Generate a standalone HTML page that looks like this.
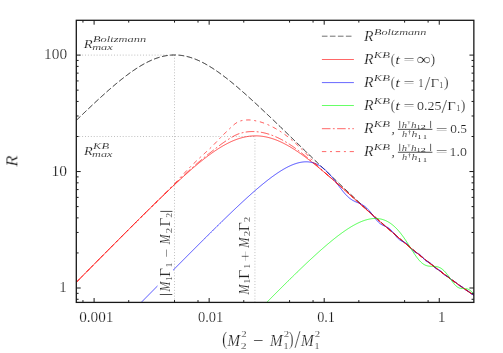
<!DOCTYPE html><html><head><meta charset="utf-8"><style>html,body{margin:0;padding:0;background:#fff}svg{display:block}</style></head><body><svg width="503" height="353" viewBox="0 0 503 353">
<rect width="503" height="353" fill="#fff"/>
<defs><clipPath id="c"><rect x="76.30" y="20.30" width="397.55" height="282.10"/></clipPath></defs>
<g stroke="#c0c0c0" stroke-width="1" stroke-dasharray="1 1.9" fill="none">
<path d="M76.30 55.10H174.52"/>
<path d="M76.30 136.50H254.93"/>
<path d="M174.52 302.40V55.10"/>
<path d="M254.93 302.40V136.50"/>
</g>
<g clip-path="url(#c)" fill="none" stroke-width="0.72" stroke-linejoin="round">
<path d="M76.30 120.42 L76.80 119.93 L77.30 119.45 L77.80 118.96 L78.30 118.48 L78.80 117.99 L79.30 117.51 L79.80 117.02 L80.30 116.54 L80.80 116.06 L81.30 115.57 L81.80 115.09 L82.30 114.61 L82.80 114.13 L83.30 113.65 L83.80 113.17 L84.30 112.69 L84.80 112.21 L85.30 111.73 L85.80 111.25 L86.30 110.77 L86.80 110.30 L87.30 109.82 L87.80 109.34 L88.30 108.87 L88.80 108.39 L89.30 107.92 L89.80 107.44 L90.30 106.97 L90.80 106.50 L91.30 106.03 L91.80 105.56 L92.30 105.09 L92.80 104.62 L93.30 104.15 L93.80 103.68 L94.30 103.21 L94.80 102.74 L95.30 102.28 L95.80 101.81 L96.30 101.35 L96.80 100.89 L97.30 100.42 L97.80 99.96 L98.30 99.50 L98.80 99.04 L99.30 98.58 L99.80 98.12 L100.30 97.66 L100.80 97.21 L101.30 96.75 L101.80 96.30 L102.30 95.84 L102.80 95.39 L103.30 94.94 L103.80 94.49 L104.30 94.04 L104.80 93.59 L105.30 93.14 L105.80 92.70 L106.30 92.25 L106.80 91.81 L107.30 91.37 L107.80 90.92 L108.30 90.48 L108.80 90.05 L109.30 89.61 L109.80 89.17 L110.30 88.74 L110.80 88.30 L111.30 87.87 L111.80 87.44 L112.30 87.01 L112.80 86.58 L113.30 86.15 L113.80 85.73 L114.30 85.30 L114.80 84.88 L115.30 84.46 L115.80 84.04 L116.30 83.63 L116.80 83.21 L117.30 82.79 L117.80 82.38 L118.30 81.97 L118.80 81.56 L119.30 81.15 L119.80 80.75 L120.30 80.35 L120.80 79.94 L121.30 79.54 L121.80 79.15 L122.30 78.75 L122.80 78.36 L123.30 77.96 L123.80 77.57 L124.30 77.19 L124.80 76.80 L125.30 76.42 L125.80 76.03 L126.30 75.65 L126.80 75.28 L127.30 74.90 L127.80 74.53 L128.30 74.16 L128.80 73.79 L129.30 73.43 L129.80 73.06 L130.30 72.70 L130.80 72.34 L131.30 71.99 L131.80 71.64 L132.30 71.29 L132.80 70.94 L133.30 70.59 L133.80 70.25 L134.30 69.91 L134.80 69.58 L135.30 69.24 L135.80 68.91 L136.30 68.58 L136.80 68.26 L137.30 67.94 L137.80 67.62 L138.30 67.30 L138.80 66.99 L139.30 66.68 L139.80 66.37 L140.30 66.07 L140.80 65.77 L141.30 65.47 L141.80 65.18 L142.30 64.89 L142.80 64.60 L143.30 64.32 L143.80 64.04 L144.30 63.76 L144.80 63.49 L145.30 63.22 L145.80 62.96 L146.30 62.70 L146.80 62.44 L147.30 62.19 L147.80 61.94 L148.30 61.69 L148.80 61.45 L149.30 61.21 L149.80 60.97 L150.30 60.74 L150.80 60.52 L151.30 60.29 L151.80 60.08 L152.30 59.86 L152.80 59.65 L153.30 59.45 L153.80 59.24 L154.30 59.05 L154.80 58.85 L155.30 58.67 L155.80 58.48 L156.30 58.30 L156.80 58.13 L157.30 57.96 L157.80 57.79 L158.30 57.63 L158.80 57.47 L159.30 57.32 L159.80 57.17 L160.30 57.03 L160.80 56.89 L161.30 56.75 L161.80 56.62 L162.30 56.50 L162.80 56.38 L163.30 56.26 L163.80 56.15 L164.30 56.05 L164.80 55.95 L165.30 55.85 L165.80 55.76 L166.30 55.67 L166.80 55.59 L167.30 55.52 L167.80 55.45 L168.30 55.38 L168.80 55.32 L169.30 55.26 L169.80 55.21 L170.30 55.16 L170.80 55.12 L171.30 55.09 L171.80 55.06 L172.30 55.03 L172.80 55.01 L173.30 54.99 L173.80 54.98 L174.30 54.97 L174.80 54.97 L175.30 54.98 L175.80 54.99 L176.30 55.00 L176.80 55.02 L177.30 55.05 L177.80 55.07 L178.30 55.11 L178.80 55.15 L179.30 55.19 L179.80 55.24 L180.30 55.30 L180.80 55.36 L181.30 55.42 L181.80 55.49 L182.30 55.56 L182.80 55.64 L183.30 55.73 L183.80 55.82 L184.30 55.91 L184.80 56.01 L185.30 56.11 L185.80 56.22 L186.30 56.33 L186.80 56.45 L187.30 56.57 L187.80 56.70 L188.30 56.83 L188.80 56.97 L189.30 57.11 L189.80 57.26 L190.30 57.41 L190.80 57.56 L191.30 57.72 L191.80 57.89 L192.30 58.06 L192.80 58.23 L193.30 58.41 L193.80 58.59 L194.30 58.78 L194.80 58.97 L195.30 59.16 L195.80 59.36 L196.30 59.57 L196.80 59.77 L197.30 59.99 L197.80 60.20 L198.30 60.42 L198.80 60.65 L199.30 60.87 L199.80 61.11 L200.30 61.34 L200.80 61.58 L201.30 61.83 L201.80 62.07 L202.30 62.33 L202.80 62.58 L203.30 62.84 L203.80 63.10 L204.30 63.37 L204.80 63.64 L205.30 63.91 L205.80 64.19 L206.30 64.47 L206.80 64.75 L207.30 65.04 L207.80 65.33 L208.30 65.63 L208.80 65.92 L209.30 66.22 L209.80 66.53 L210.30 66.83 L210.80 67.14 L211.30 67.46 L211.80 67.77 L212.30 68.09 L212.80 68.42 L213.30 68.74 L213.80 69.07 L214.30 69.40 L214.80 69.73 L215.30 70.07 L215.80 70.41 L216.30 70.75 L216.80 71.09 L217.30 71.44 L217.80 71.79 L218.30 72.14 L218.80 72.50 L219.30 72.86 L219.80 73.22 L220.30 73.58 L220.80 73.94 L221.30 74.31 L221.80 74.68 L222.30 75.05 L222.80 75.42 L223.30 75.80 L223.80 76.18 L224.30 76.56 L224.80 76.94 L225.30 77.32 L225.80 77.71 L226.30 78.10 L226.80 78.49 L227.30 78.88 L227.80 79.28 L228.30 79.67 L228.80 80.07 L229.30 80.47 L229.80 80.87 L230.30 81.28 L230.80 81.68 L231.30 82.09 L231.80 82.50 L232.30 82.91 L232.80 83.32 L233.30 83.73 L233.80 84.15 L234.30 84.56 L234.80 84.98 L235.30 85.40 L235.80 85.82 L236.30 86.24 L236.80 86.67 L237.30 87.09 L237.80 87.52 L238.30 87.95 L238.80 88.38 L239.30 88.81 L239.80 89.24 L240.30 89.67 L240.80 90.11 L241.30 90.54 L241.80 90.98 L242.30 91.41 L242.80 91.85 L243.30 92.29 L243.80 92.73 L244.30 93.18 L244.80 93.62 L245.30 94.06 L245.80 94.51 L246.30 94.96 L246.80 95.40 L247.30 95.85 L247.80 96.30 L248.30 96.75 L248.80 97.20 L249.30 97.65 L249.80 98.11 L250.30 98.56 L250.80 99.01 L251.30 99.47 L251.80 99.92 L252.30 100.38 L252.80 100.84 L253.30 101.30 L253.80 101.76 L254.30 102.22 L254.80 102.68 L255.30 103.14 L255.80 103.60 L256.30 104.06 L256.80 104.53 L257.30 104.99 L257.80 105.45 L258.30 105.92 L258.80 106.38 L259.30 106.85 L259.80 107.32 L260.30 107.78 L260.80 108.25 L261.30 108.72 L261.80 109.19 L262.30 109.66 L262.80 110.13 L263.30 110.60 L263.80 111.07 L264.30 111.54 L264.80 112.01 L265.30 112.49 L265.80 112.96 L266.30 113.43 L266.80 113.90 L267.30 114.38 L267.80 114.85 L268.30 115.33 L268.80 115.80 L269.30 116.28 L269.80 116.75 L270.30 117.23 L270.80 117.71 L271.30 118.18 L271.80 118.66 L272.30 119.14 L272.80 119.62 L273.30 120.09 L273.80 120.57 L274.30 121.05 L274.80 121.53 L275.30 122.01 L275.80 122.49 L276.30 122.97 L276.80 123.45 L277.30 123.93 L277.80 124.41 L278.30 124.89 L278.80 125.37 L279.30 125.85 L279.80 126.33 L280.30 126.81 L280.80 127.30 L281.30 127.78 L281.80 128.26 L282.30 128.74 L282.80 129.22 L283.30 129.71 L283.80 130.19 L284.30 130.67 L284.80 131.15 L285.30 131.64 L285.80 132.12 L286.30 132.60 L286.80 133.09 L287.30 133.57 L287.80 134.06 L288.30 134.54 L288.80 135.02 L289.30 135.51 L289.80 135.99 L290.30 136.47 L290.80 136.96 L291.30 137.44 L291.80 137.93 L292.30 138.41 L292.80 138.90 L293.30 139.38 L293.80 139.87 L294.30 140.35 L294.80 140.83 L295.30 141.32 L295.80 141.80 L296.30 142.29 L296.80 142.77 L297.30 143.26 L297.80 143.74 L298.30 144.23 L298.80 144.71 L299.30 145.20 L299.80 145.68 L300.30 146.17 L300.80 146.65 L301.30 147.14 L301.80 147.62 L302.30 148.11 L302.80 148.59 L303.30 149.07 L303.80 149.56 L304.30 150.04 L304.80 150.53 L305.30 151.01 L305.80 151.50 L306.30 151.98 L306.80 152.47 L307.30 152.95 L307.80 153.44 L308.30 153.92 L308.80 154.40 L309.30 154.89 L309.80 155.37 L310.30 155.86 L310.80 156.34 L311.30 156.82 L311.80 157.31 L312.30 157.79 L312.80 158.27 L313.30 158.76 L313.80 159.24 L314.30 159.72 L314.80 160.21 L315.30 160.69 L315.80 161.17 L316.30 161.66 L316.80 162.14 L317.30 162.62 L317.80 163.10 L318.30 163.59 L318.80 164.07 L319.30 164.55 L319.80 165.03 L320.30 165.51 L320.80 165.99 L321.30 166.48 L321.80 166.96 L322.30 167.44 L322.80 167.92 L323.30 168.40 L323.80 168.88 L324.30 169.36 L324.80 169.84 L325.30 170.32 L325.80 170.80 L326.30 171.28 L326.80 171.76 L327.30 172.24 L327.80 172.72 L328.30 173.20 L328.80 173.68 L329.30 174.16 L329.80 174.64 L330.30 175.12 L330.80 175.59 L331.30 176.07 L331.80 176.55 L332.30 177.03 L332.80 177.51 L333.30 177.98 L333.80 178.46 L334.30 178.94 L334.80 179.41 L335.30 179.89 L335.80 180.37 L336.30 180.84 L336.80 181.32 L337.30 181.79 L337.80 182.27 L338.30 182.74 L338.80 183.22 L339.30 183.69 L339.80 184.17 L340.30 184.64 L340.80 185.12 L341.30 185.59 L341.80 186.06 L342.30 186.54 L342.80 187.01 L343.30 187.48 L343.80 187.96 L344.30 188.43 L344.80 188.90 L345.30 189.37 L345.80 189.84 L346.30 190.31 L346.80 190.78 L347.30 191.25 L347.80 191.73 L348.30 192.20 L348.80 192.66 L349.30 193.13 L349.80 193.60 L350.30 194.07 L350.80 194.54 L351.30 195.01 L351.80 195.48 L352.30 195.94 L352.80 196.41 L353.30 196.88 L353.80 197.35 L354.30 197.81 L354.80 198.28 L355.30 198.74 L355.80 199.21 L356.30 199.67 L356.80 200.14 L357.30 200.60 L357.80 201.07 L358.30 201.53 L358.80 202.00 L359.30 202.46 L359.80 202.92 L360.30 203.38 L360.80 203.85 L361.30 204.31 L361.80 204.77 L362.30 205.23 L362.80 205.69 L363.30 206.15 L363.80 206.61 L364.30 207.07 L364.80 207.53 L365.30 207.99 L365.80 208.45 L366.30 208.91 L366.80 209.36 L367.30 209.82 L367.80 210.28 L368.30 210.73 L368.80 211.19 L369.30 211.65 L369.80 212.10 L370.30 212.56 L370.80 213.01 L371.30 213.47 L371.80 213.92 L372.30 214.37 L372.80 214.83 L373.30 215.28 L373.80 215.73 L374.30 216.18 L374.80 216.63 L375.30 217.08 L375.80 217.53 L376.30 217.98 L376.80 218.43 L377.30 218.88 L377.80 219.33 L378.30 219.78 L378.80 220.23 L379.30 220.68 L379.80 221.12 L380.30 221.57 L380.80 222.02 L381.30 222.46 L381.80 222.91 L382.30 223.35 L382.80 223.80 L383.30 224.24 L383.80 224.68 L384.30 225.13 L384.80 225.57 L385.30 226.01 L385.80 226.45 L386.30 226.89 L386.80 227.33 L387.30 227.77 L387.80 228.21 L388.30 228.65 L388.80 229.09 L389.30 229.53 L389.80 229.97 L390.30 230.40 L390.80 230.84 L391.30 231.28 L391.80 231.71 L392.30 232.15 L392.80 232.58 L393.30 233.01 L393.80 233.45 L394.30 233.88 L394.80 234.31 L395.30 234.75 L395.80 235.18 L396.30 235.61 L396.80 236.04 L397.30 236.47 L397.80 236.90 L398.30 237.33 L398.80 237.75 L399.30 238.18 L399.80 238.61 L400.30 239.04 L400.80 239.46 L401.30 239.89 L401.80 240.31 L402.30 240.74 L402.80 241.16 L403.30 241.59 L403.80 242.01 L404.30 242.43 L404.80 242.85 L405.30 243.27 L405.80 243.69 L406.30 244.11 L406.80 244.53 L407.30 244.95 L407.80 245.37 L408.30 245.79 L408.80 246.21 L409.30 246.62 L409.80 247.04 L410.30 247.45 L410.80 247.87 L411.30 248.28 L411.80 248.70 L412.30 249.11 L412.80 249.52 L413.30 249.93 L413.80 250.34 L414.30 250.76 L414.80 251.17 L415.30 251.58 L415.80 251.98 L416.30 252.39 L416.80 252.80 L417.30 253.21 L417.80 253.61 L418.30 254.02 L418.80 254.43 L419.30 254.83 L419.80 255.23 L420.30 255.64 L420.80 256.04 L421.30 256.44 L421.80 256.84 L422.30 257.25 L422.80 257.65 L423.30 258.05 L423.80 258.45 L424.30 258.84 L424.80 259.24 L425.30 259.64 L425.80 260.04 L426.30 260.43 L426.80 260.83 L427.30 261.22 L427.80 261.62 L428.30 262.01 L428.80 262.40 L429.30 262.80 L429.80 263.19 L430.30 263.58 L430.80 263.97 L431.30 264.36 L431.80 264.75 L432.30 265.14 L432.80 265.53 L433.30 265.91 L433.80 266.30 L434.30 266.69 L434.80 267.07 L435.30 267.46 L435.80 267.84 L436.30 268.22 L436.80 268.61 L437.30 268.99 L437.80 269.37 L438.30 269.75 L438.80 270.13 L439.30 270.51 L439.80 270.89 L440.30 271.27 L440.80 271.65 L441.30 272.02 L441.80 272.40 L442.30 272.78 L442.80 273.15 L443.30 273.53 L443.80 273.90 L444.30 274.27 L444.80 274.65 L445.30 275.02 L445.80 275.39 L446.30 275.76 L446.80 276.13 L447.30 276.50 L447.80 276.87 L448.30 277.24 L448.80 277.61 L449.30 277.97 L449.80 278.34 L450.30 278.71 L450.80 279.07 L451.30 279.44 L451.80 279.80 L452.30 280.16 L452.80 280.53 L453.30 280.89 L453.80 281.25 L454.30 281.61 L454.80 281.97 L455.30 282.33 L455.80 282.69 L456.30 283.05 L456.80 283.41 L457.30 283.77 L457.80 284.12 L458.30 284.48 L458.80 284.83 L459.30 285.19 L459.80 285.54 L460.30 285.90 L460.80 286.25 L461.30 286.60 L461.80 286.95 L462.30 287.30 L462.80 287.65 L463.30 288.00 L463.80 288.35 L464.30 288.70 L464.80 289.05 L465.30 289.40 L465.80 289.75 L466.30 290.09 L466.80 290.44 L467.30 290.78 L467.80 291.13 L468.30 291.47 L468.80 291.82 L469.30 292.16 L469.80 292.50 L470.30 292.84 L470.80 293.18 L471.30 293.52 L471.80 293.86 L472.30 294.20 L472.80 294.54 L473.30 294.88 L473.80 295.22" stroke="#111" stroke-width="0.95" stroke-dasharray="5.8 2.5"/>
<path d="M76.30 282.27 L76.80 281.76 L77.30 281.26 L77.80 280.75 L78.30 280.25 L78.80 279.74 L79.30 279.24 L79.80 278.73 L80.30 278.23 L80.80 277.72 L81.30 277.21 L81.80 276.71 L82.30 276.20 L82.80 275.70 L83.30 275.19 L83.80 274.69 L84.30 274.18 L84.80 273.68 L85.30 273.17 L85.80 272.67 L86.30 272.16 L86.80 271.66 L87.30 271.15 L87.80 270.65 L88.30 270.14 L88.80 269.64 L89.30 269.13 L89.80 268.63 L90.30 268.12 L90.80 267.62 L91.30 267.11 L91.80 266.61 L92.30 266.10 L92.80 265.60 L93.30 265.09 L93.80 264.59 L94.30 264.08 L94.80 263.58 L95.30 263.07 L95.80 262.57 L96.30 262.07 L96.80 261.56 L97.30 261.06 L97.80 260.55 L98.30 260.05 L98.80 259.54 L99.30 259.04 L99.80 258.53 L100.30 258.03 L100.80 257.53 L101.30 257.02 L101.80 256.52 L102.30 256.01 L102.80 255.51 L103.30 255.00 L103.80 254.50 L104.30 254.00 L104.80 253.49 L105.30 252.99 L105.80 252.49 L106.30 251.98 L106.80 251.48 L107.30 250.97 L107.80 250.47 L108.30 249.97 L108.80 249.46 L109.30 248.96 L109.80 248.46 L110.30 247.95 L110.80 247.45 L111.30 246.95 L111.80 246.44 L112.30 245.94 L112.80 245.44 L113.30 244.93 L113.80 244.43 L114.30 243.93 L114.80 243.43 L115.30 242.92 L115.80 242.42 L116.30 241.92 L116.80 241.41 L117.30 240.91 L117.80 240.41 L118.30 239.91 L118.80 239.41 L119.30 238.90 L119.80 238.40 L120.30 237.90 L120.80 237.40 L121.30 236.90 L121.80 236.39 L122.30 235.89 L122.80 235.39 L123.30 234.89 L123.80 234.39 L124.30 233.89 L124.80 233.39 L125.30 232.88 L125.80 232.38 L126.30 231.88 L126.80 231.38 L127.30 230.88 L127.80 230.38 L128.30 229.88 L128.80 229.38 L129.30 228.88 L129.80 228.38 L130.30 227.88 L130.80 227.38 L131.30 226.88 L131.80 226.38 L132.30 225.88 L132.80 225.38 L133.30 224.88 L133.80 224.39 L134.30 223.89 L134.80 223.39 L135.30 222.89 L135.80 222.39 L136.30 221.89 L136.80 221.40 L137.30 220.90 L137.80 220.40 L138.30 219.90 L138.80 219.41 L139.30 218.91 L139.80 218.41 L140.30 217.92 L140.80 217.42 L141.30 216.92 L141.80 216.43 L142.30 215.93 L142.80 215.44 L143.30 214.94 L143.80 214.45 L144.30 213.95 L144.80 213.46 L145.30 212.96 L145.80 212.47 L146.30 211.97 L146.80 211.48 L147.30 210.99 L147.80 210.49 L148.30 210.00 L148.80 209.51 L149.30 209.01 L149.80 208.52 L150.30 208.03 L150.80 207.54 L151.30 207.05 L151.80 206.56 L152.30 206.07 L152.80 205.58 L153.30 205.09 L153.80 204.60 L154.30 204.11 L154.80 203.62 L155.30 203.13 L155.80 202.64 L156.30 202.15 L156.80 201.66 L157.30 201.18 L157.80 200.69 L158.30 200.20 L158.80 199.72 L159.30 199.23 L159.80 198.75 L160.30 198.26 L160.80 197.78 L161.30 197.29 L161.80 196.81 L162.30 196.33 L162.80 195.84 L163.30 195.36 L163.80 194.88 L164.30 194.40 L164.80 193.92 L165.30 193.44 L165.80 192.96 L166.30 192.48 L166.80 192.00 L167.30 191.52 L167.80 191.05 L168.30 190.57 L168.80 190.09 L169.30 189.62 L169.80 189.14 L170.30 188.67 L170.80 188.19 L171.30 187.72 L171.80 187.25 L172.30 186.78 L172.80 186.30 L173.30 185.83 L173.80 185.36 L174.30 184.90 L174.80 184.43 L175.30 183.96 L175.80 183.49 L176.30 183.03 L176.80 182.56 L177.30 182.10 L177.80 181.63 L178.30 181.17 L178.80 180.71 L179.30 180.25 L179.80 179.79 L180.30 179.33 L180.80 178.87 L181.30 178.41 L181.80 177.95 L182.30 177.50 L182.80 177.04 L183.30 176.59 L183.80 176.14 L184.30 175.69 L184.80 175.24 L185.30 174.79 L185.80 174.34 L186.30 173.89 L186.80 173.45 L187.30 173.00 L187.80 172.56 L188.30 172.11 L188.80 171.67 L189.30 171.23 L189.80 170.79 L190.30 170.36 L190.80 169.92 L191.30 169.48 L191.80 169.05 L192.30 168.62 L192.80 168.19 L193.30 167.76 L193.80 167.33 L194.30 166.90 L194.80 166.48 L195.30 166.05 L195.80 165.63 L196.30 165.21 L196.80 164.79 L197.30 164.38 L197.80 163.96 L198.30 163.55 L198.80 163.13 L199.30 162.72 L199.80 162.32 L200.30 161.91 L200.80 161.50 L201.30 161.10 L201.80 160.70 L202.30 160.30 L202.80 159.90 L203.30 159.51 L203.80 159.11 L204.30 158.72 L204.80 158.33 L205.30 157.94 L205.80 157.56 L206.30 157.18 L206.80 156.79 L207.30 156.42 L207.80 156.04 L208.30 155.67 L208.80 155.29 L209.30 154.92 L209.80 154.56 L210.30 154.19 L210.80 153.83 L211.30 153.47 L211.80 153.11 L212.30 152.76 L212.80 152.41 L213.30 152.06 L213.80 151.71 L214.30 151.37 L214.80 151.03 L215.30 150.69 L215.80 150.35 L216.30 150.02 L216.80 149.69 L217.30 149.36 L217.80 149.04 L218.30 148.72 L218.80 148.40 L219.30 148.09 L219.80 147.77 L220.30 147.47 L220.80 147.16 L221.30 146.86 L221.80 146.56 L222.30 146.26 L222.80 145.97 L223.30 145.68 L223.80 145.40 L224.30 145.12 L224.80 144.84 L225.30 144.57 L225.80 144.29 L226.30 144.03 L226.80 143.76 L227.30 143.50 L227.80 143.25 L228.30 142.99 L228.80 142.75 L229.30 142.50 L229.80 142.26 L230.30 142.02 L230.80 141.79 L231.30 141.56 L231.80 141.34 L232.30 141.12 L232.80 140.90 L233.30 140.69 L233.80 140.48 L234.30 140.27 L234.80 140.08 L235.30 139.88 L235.80 139.69 L236.30 139.50 L236.80 139.32 L237.30 139.14 L237.80 138.97 L238.30 138.80 L238.80 138.63 L239.30 138.47 L239.80 138.32 L240.30 138.17 L240.80 138.02 L241.30 137.88 L241.80 137.74 L242.30 137.61 L242.80 137.48 L243.30 137.36 L243.80 137.24 L244.30 137.13 L244.80 137.02 L245.30 136.91 L245.80 136.81 L246.30 136.72 L246.80 136.63 L247.30 136.55 L247.80 136.47 L248.30 136.39 L248.80 136.32 L249.30 136.26 L249.80 136.20 L250.30 136.14 L250.80 136.09 L251.30 136.05 L251.80 136.01 L252.30 135.97 L252.80 135.94 L253.30 135.92 L253.80 135.90 L254.30 135.88 L254.80 135.87 L255.30 135.87 L255.80 135.87 L256.30 135.87 L256.80 135.88 L257.30 135.90 L257.80 135.92 L258.30 135.94 L258.80 135.97 L259.30 136.01 L259.80 136.05 L260.30 136.09 L260.80 136.14 L261.30 136.20 L261.80 136.26 L262.30 136.32 L262.80 136.39 L263.30 136.46 L263.80 136.54 L264.30 136.63 L264.80 136.72 L265.30 136.81 L265.80 136.91 L266.30 137.01 L266.80 137.12 L267.30 137.23 L267.80 137.35 L268.30 137.47 L268.80 137.60 L269.30 137.73 L269.80 137.86 L270.30 138.00 L270.80 138.15 L271.30 138.30 L271.80 138.45 L272.30 138.61 L272.80 138.77 L273.30 138.94 L273.80 139.11 L274.30 139.29 L274.80 139.47 L275.30 139.65 L275.80 139.84 L276.30 140.03 L276.80 140.23 L277.30 140.43 L277.80 140.64 L278.30 140.85 L278.80 141.06 L279.30 141.28 L279.80 141.50 L280.30 141.72 L280.80 141.95 L281.30 142.18 L281.80 142.42 L282.30 142.66 L282.80 142.90 L283.30 143.15 L283.80 143.40 L284.30 143.66 L284.80 143.91 L285.30 144.18 L285.80 144.44 L286.30 144.71 L286.80 144.98 L287.30 145.26 L287.80 145.54 L288.30 145.82 L288.80 146.10 L289.30 146.39 L289.80 146.68 L290.30 146.98 L290.80 147.28 L291.30 147.58 L291.80 147.88 L292.30 148.19 L292.80 148.50 L293.30 148.81 L293.80 149.12 L294.30 149.44 L294.80 149.76 L295.30 150.09 L295.80 150.41 L296.30 150.74 L296.80 151.07 L297.30 151.41 L297.80 151.74 L298.30 152.08 L298.80 152.42 L299.30 152.77 L299.80 153.11 L300.30 153.46 L300.80 153.81 L301.30 154.17 L301.80 154.52 L302.30 154.88 L302.80 155.24 L303.30 155.60 L303.80 155.96 L304.30 156.33 L304.80 156.70 L305.30 157.07 L305.80 157.44 L306.30 157.81 L306.80 158.19 L307.30 158.57 L307.80 158.95 L308.30 159.33 L308.80 159.71 L309.30 160.09 L309.80 160.48 L310.30 160.87 L310.80 161.26 L311.30 161.65 L311.80 162.04 L312.30 162.44 L312.80 162.83 L313.30 163.23 L313.80 163.63 L314.30 164.03 L314.80 164.43 L315.30 164.83 L315.80 165.24 L316.30 165.64 L316.80 166.05 L317.30 166.46 L317.80 166.87 L318.30 167.28 L318.80 167.69 L319.30 168.10 L319.80 168.52 L320.30 168.93 L320.80 169.35 L321.30 169.77 L321.80 170.18 L322.30 170.60 L322.80 171.02 L323.30 171.45 L323.80 171.87 L324.30 172.29 L324.80 172.71 L325.30 173.14 L325.80 173.57 L326.30 173.99 L326.80 174.42 L327.30 174.85 L327.80 175.28 L328.30 175.71 L328.80 176.14 L329.30 176.57 L329.80 177.00 L330.30 177.43 L330.80 177.87 L331.30 178.30 L331.80 178.74 L332.30 179.17 L332.80 179.61 L333.30 180.05 L333.80 180.48 L334.30 180.92 L334.80 181.36 L335.30 181.80 L335.80 182.24 L336.30 182.68 L336.80 183.12 L337.30 183.56 L337.80 184.00 L338.30 184.44 L338.80 184.88 L339.30 185.32 L339.80 185.77 L340.30 186.21 L340.80 186.65 L341.30 187.10 L341.80 187.54 L342.30 187.98 L342.80 188.43 L343.30 188.87 L343.80 189.32 L344.30 189.77 L344.80 190.21 L345.30 190.66 L345.80 191.10 L346.30 191.55 L346.80 192.00 L347.30 192.44 L347.80 192.89 L348.30 193.34 L348.80 193.78 L349.30 194.23 L349.80 194.68 L350.30 195.13 L350.80 195.58 L351.30 196.02 L351.80 196.47 L352.30 196.92 L352.80 197.37 L353.30 197.82 L353.80 198.26 L354.30 198.71 L354.80 199.16 L355.30 199.61 L355.80 200.06 L356.30 200.51 L356.80 200.96 L357.30 201.40 L357.80 201.85 L358.30 202.30 L358.80 202.75 L359.30 203.20 L359.80 203.65 L360.30 204.09 L360.80 204.54 L361.30 204.99 L361.80 205.44 L362.30 205.89 L362.80 206.33 L363.30 206.78 L363.80 207.23 L364.30 207.68 L364.80 208.12 L365.30 208.57 L365.80 209.02 L366.30 209.46 L366.80 209.91 L367.30 210.36 L367.80 210.80 L368.30 211.25 L368.80 211.70 L369.30 212.14 L369.80 212.59 L370.30 213.03 L370.80 213.48 L371.30 213.92 L371.80 214.37 L372.30 214.81 L372.80 215.26 L373.30 215.70 L373.80 216.14 L374.30 216.59 L374.80 217.03 L375.30 217.47 L375.80 217.92 L376.30 218.36 L376.80 218.80 L377.30 219.24 L377.80 219.69 L378.30 220.13 L378.80 220.57 L379.30 221.01 L379.80 221.45 L380.30 221.89 L380.80 222.33 L381.30 222.77 L381.80 223.21 L382.30 223.65 L382.80 224.09 L383.30 224.52 L383.80 224.96 L384.30 225.40 L384.80 225.84 L385.30 226.27 L385.80 226.71 L386.30 227.14 L386.80 227.58 L387.30 228.01 L387.80 228.45 L388.30 228.88 L388.80 229.32 L389.30 229.75 L389.80 230.18 L390.30 230.62 L390.80 231.05 L391.30 231.48 L391.80 231.91 L392.30 232.34 L392.80 232.77 L393.30 233.21 L393.80 233.63 L394.30 234.06 L394.80 234.49 L395.30 234.92 L395.80 235.35 L396.30 235.78 L396.80 236.20 L397.30 236.63 L397.80 237.06 L398.30 237.48 L398.80 237.91 L399.30 238.33 L399.80 238.76 L400.30 239.18 L400.80 239.60 L401.30 240.03 L401.80 240.45 L402.30 240.87 L402.80 241.29 L403.30 241.71 L403.80 242.13 L404.30 242.55 L404.80 242.97 L405.30 243.39 L405.80 243.81 L406.30 244.23 L406.80 244.64 L407.30 245.06 L407.80 245.48 L408.30 245.89 L408.80 246.31 L409.30 246.72 L409.80 247.14 L410.30 247.55 L410.80 247.96 L411.30 248.38 L411.80 248.79 L412.30 249.20 L412.80 249.61 L413.30 250.02 L413.80 250.43 L414.30 250.84 L414.80 251.25 L415.30 251.65 L415.80 252.06 L416.30 252.47 L416.80 252.87 L417.30 253.28 L417.80 253.69 L418.30 254.09 L418.80 254.49 L419.30 254.90 L419.80 255.30 L420.30 255.70 L420.80 256.10 L421.30 256.51 L421.80 256.91 L422.30 257.31 L422.80 257.70 L423.30 258.10 L423.80 258.50 L424.30 258.90 L424.80 259.30 L425.30 259.69 L425.80 260.09 L426.30 260.48 L426.80 260.88 L427.30 261.27 L427.80 261.66 L428.30 262.06 L428.80 262.45 L429.30 262.84 L429.80 263.23 L430.30 263.62 L430.80 264.01 L431.30 264.40 L431.80 264.79 L432.30 265.18 L432.80 265.56 L433.30 265.95 L433.80 266.34 L434.30 266.72 L434.80 267.11 L435.30 267.49 L435.80 267.87 L436.30 268.26 L436.80 268.64 L437.30 269.02 L437.80 269.40 L438.30 269.78 L438.80 270.16 L439.30 270.54 L439.80 270.92 L440.30 271.30 L440.80 271.68 L441.30 272.05 L441.80 272.43 L442.30 272.80 L442.80 273.18 L443.30 273.55 L443.80 273.93 L444.30 274.30 L444.80 274.67 L445.30 275.04 L445.80 275.41 L446.30 275.79 L446.80 276.16 L447.30 276.52 L447.80 276.89 L448.30 277.26 L448.80 277.63 L449.30 278.00 L449.80 278.36 L450.30 278.73 L450.80 279.09 L451.30 279.46 L451.80 279.82 L452.30 280.18 L452.80 280.55 L453.30 280.91 L453.80 281.27 L454.30 281.63 L454.80 281.99 L455.30 282.35 L455.80 282.71 L456.30 283.07 L456.80 283.42 L457.30 283.78 L457.80 284.14 L458.30 284.49 L458.80 284.85 L459.30 285.20 L459.80 285.56 L460.30 285.91 L460.80 286.26 L461.30 286.61 L461.80 286.97 L462.30 287.32 L462.80 287.67 L463.30 288.02 L463.80 288.37 L464.30 288.71 L464.80 289.06 L465.30 289.41 L465.80 289.76 L466.30 290.10 L466.80 290.45 L467.30 290.79 L467.80 291.14 L468.30 291.48 L468.80 291.82 L469.30 292.17 L469.80 292.51 L470.30 292.85 L470.80 293.19 L471.30 293.53 L471.80 293.87 L472.30 294.21 L472.80 294.55 L473.30 294.89 L473.80 295.23" stroke="#f00"/>
<path d="M136.30 307.39 L136.80 306.88 L137.30 306.37 L137.80 305.87 L138.30 305.36 L138.80 304.86 L139.30 304.35 L139.80 303.84 L140.30 303.34 L140.80 302.83 L141.30 302.33 L141.80 301.82 L142.30 301.31 L142.80 300.81 L143.30 300.30 L143.80 299.80 L144.30 299.29 L144.80 298.79 L145.30 298.28 L145.80 297.77 L146.30 297.27 L146.80 296.76 L147.30 296.26 L147.80 295.75 L148.30 295.25 L148.80 294.74 L149.30 294.23 L149.80 293.73 L150.30 293.22 L150.80 292.72 L151.30 292.21 L151.80 291.71 L152.30 291.20 L152.80 290.70 L153.30 290.19 L153.80 289.68 L154.30 289.18 L154.80 288.67 L155.30 288.17 L155.80 287.66 L156.30 287.16 L156.80 286.65 L157.30 286.15 L157.80 285.64 L158.30 285.14 L158.80 284.63 L159.30 284.13 L159.80 283.62 L160.30 283.11 L160.80 282.61 L161.30 282.10 L161.80 281.60 L162.30 281.09 L162.80 280.59 L163.30 280.08 L163.80 279.58 L164.30 279.07 L164.80 278.57 L165.30 278.06 L165.80 277.56 L166.30 277.05 L166.80 276.55 L167.30 276.05 L167.80 275.54 L168.30 275.04 L168.80 274.53 L169.30 274.03 L169.80 273.52 L170.30 273.02 L170.80 272.51 L171.30 272.01 L171.80 271.50 L172.30 271.00 L172.80 270.50 L173.30 269.99 L173.80 269.49 L174.30 268.98 L174.80 268.48 L175.30 267.98 L175.80 267.47 L176.30 266.97 L176.80 266.46 L177.30 265.96 L177.80 265.46 L178.30 264.95 L178.80 264.45 L179.30 263.95 L179.80 263.44 L180.30 262.94 L180.80 262.44 L181.30 261.93 L181.80 261.43 L182.30 260.93 L182.80 260.42 L183.30 259.92 L183.80 259.42 L184.30 258.91 L184.80 258.41 L185.30 257.91 L185.80 257.41 L186.30 256.90 L186.80 256.40 L187.30 255.90 L187.80 255.40 L188.30 254.90 L188.80 254.39 L189.30 253.89 L189.80 253.39 L190.30 252.89 L190.80 252.39 L191.30 251.89 L191.80 251.38 L192.30 250.88 L192.80 250.38 L193.30 249.88 L193.80 249.38 L194.30 248.88 L194.80 248.38 L195.30 247.88 L195.80 247.38 L196.30 246.88 L196.80 246.38 L197.30 245.88 L197.80 245.38 L198.30 244.88 L198.80 244.38 L199.30 243.88 L199.80 243.38 L200.30 242.88 L200.80 242.38 L201.30 241.88 L201.80 241.39 L202.30 240.89 L202.80 240.39 L203.30 239.89 L203.80 239.39 L204.30 238.90 L204.80 238.40 L205.30 237.90 L205.80 237.41 L206.30 236.91 L206.80 236.41 L207.30 235.92 L207.80 235.42 L208.30 234.92 L208.80 234.43 L209.30 233.93 L209.80 233.44 L210.30 232.94 L210.80 232.45 L211.30 231.95 L211.80 231.46 L212.30 230.97 L212.80 230.47 L213.30 229.98 L213.80 229.49 L214.30 228.99 L214.80 228.50 L215.30 228.01 L215.80 227.52 L216.30 227.02 L216.80 226.53 L217.30 226.04 L217.80 225.55 L218.30 225.06 L218.80 224.57 L219.30 224.08 L219.80 223.59 L220.30 223.10 L220.80 222.62 L221.30 222.13 L221.80 221.64 L222.30 221.15 L222.80 220.67 L223.30 220.18 L223.80 219.69 L224.30 219.21 L224.80 218.72 L225.30 218.24 L225.80 217.75 L226.30 217.27 L226.80 216.79 L227.30 216.30 L227.80 215.82 L228.30 215.34 L228.80 214.86 L229.30 214.38 L229.80 213.90 L230.30 213.42 L230.80 212.94 L231.30 212.46 L231.80 211.98 L232.30 211.50 L232.80 211.03 L233.30 210.55 L233.80 210.07 L234.30 209.60 L234.80 209.12 L235.30 208.65 L235.80 208.18 L236.30 207.70 L236.80 207.23 L237.30 206.76 L237.80 206.29 L238.30 205.82 L238.80 205.35 L239.30 204.88 L239.80 204.42 L240.30 203.95 L240.80 203.49 L241.30 203.02 L241.80 202.56 L242.30 202.09 L242.80 201.63 L243.30 201.17 L243.80 200.71 L244.30 200.25 L244.80 199.79 L245.30 199.33 L245.80 198.88 L246.30 198.42 L246.80 197.96 L247.30 197.51 L247.80 197.06 L248.30 196.61 L248.80 196.16 L249.30 195.71 L249.80 195.26 L250.30 194.81 L250.80 194.36 L251.30 193.92 L251.80 193.48 L252.30 193.03 L252.80 192.59 L253.30 192.15 L253.80 191.71 L254.30 191.28 L254.80 190.84 L255.30 190.41 L255.80 189.97 L256.30 189.54 L256.80 189.11 L257.30 188.68 L257.80 188.26 L258.30 187.83 L258.80 187.41 L259.30 186.98 L259.80 186.56 L260.30 186.15 L260.80 185.73 L261.30 185.31 L261.80 184.90 L262.30 184.49 L262.80 184.08 L263.30 183.67 L263.80 183.26 L264.30 182.86 L264.80 182.46 L265.30 182.05 L265.80 181.66 L266.30 181.26 L266.80 180.87 L267.30 180.47 L267.80 180.08 L268.30 179.70 L268.80 179.31 L269.30 178.93 L269.80 178.55 L270.30 178.17 L270.80 177.80 L271.30 177.42 L271.80 177.05 L272.30 176.69 L272.80 176.32 L273.30 175.96 L273.80 175.60 L274.30 175.24 L274.80 174.89 L275.30 174.54 L275.80 174.19 L276.30 173.85 L276.80 173.51 L277.30 173.17 L277.80 172.83 L278.30 172.50 L278.80 172.17 L279.30 171.85 L279.80 171.53 L280.30 171.21 L280.80 170.90 L281.30 170.59 L281.80 170.28 L282.30 169.98 L282.80 169.68 L283.30 169.39 L283.80 169.09 L284.30 168.81 L284.80 168.53 L285.30 168.25 L285.80 167.98 L286.30 167.71 L286.80 167.44 L287.30 167.18 L287.80 166.93 L288.30 166.68 L288.80 166.43 L289.30 166.19 L289.80 165.96 L290.30 165.73 L290.80 165.51 L291.30 165.29 L291.80 165.07 L292.30 164.87 L292.80 164.66 L293.30 164.47 L293.80 164.28 L294.30 164.09 L294.80 163.92 L295.30 163.75 L295.80 163.58 L296.30 163.42 L296.80 163.27 L297.30 163.12 L297.80 162.99 L298.30 162.85 L298.80 162.73 L299.30 162.61 L299.80 162.50 L300.30 162.40 L300.80 162.31 L301.30 162.22 L301.80 162.14 L302.30 162.07 L302.80 162.01 L303.30 161.95 L303.80 161.91 L304.30 161.87 L304.80 161.84 L305.30 161.82 L305.80 161.81 L306.30 161.81 L306.80 161.82 L307.30 161.84 L307.80 161.86 L308.30 161.90 L308.80 161.95 L309.30 162.00 L309.80 162.07 L310.30 162.15 L310.80 162.24 L311.30 162.34 L311.80 162.45 L312.30 162.57 L312.80 162.70 L313.30 162.84 L313.80 162.99 L314.30 163.16 L314.80 163.34 L315.30 163.53 L315.80 163.73 L316.30 163.94 L316.80 164.17 L317.30 164.40 L317.80 164.65 L318.30 164.92 L318.80 165.19 L319.30 165.48 L319.80 165.78 L320.30 166.10 L320.80 166.42 L321.30 166.76 L321.80 167.12 L322.30 167.48 L322.80 167.86 L323.30 168.25 L323.80 168.66 L324.30 169.08 L324.80 169.51 L325.30 169.95 L325.80 170.41 L326.30 170.88 L326.80 171.37 L327.30 171.86 L327.80 172.37 L328.30 172.89 L328.80 173.42 L329.30 173.97 L329.80 174.52 L330.30 175.09 L330.80 175.67 L331.30 176.26 L331.80 176.85 L332.30 177.46 L332.80 178.08 L333.30 178.70 L333.80 179.33 L334.30 179.97 L334.80 180.62 L335.30 181.27 L335.80 181.93 L336.30 182.59 L336.80 183.26 L337.30 183.92 L337.80 184.59 L338.30 185.26 L338.80 185.93 L339.30 186.60 L339.80 187.26 L340.30 187.92 L340.80 188.58 L341.30 189.23 L341.80 189.87 L342.30 190.51 L342.80 191.13 L343.30 191.75 L343.80 192.35 L344.30 192.94 L344.80 193.52 L345.30 194.08 L345.80 194.63 L346.30 195.16 L346.80 195.67 L347.30 196.17 L347.80 196.64 L348.30 197.10 L348.80 197.54 L349.30 197.96 L349.80 198.36 L350.30 198.74 L350.80 199.10 L351.30 199.45 L351.80 199.77 L352.30 200.08 L352.80 200.38 L353.30 200.65 L353.80 200.92 L354.30 201.17 L354.80 201.40 L355.30 201.63 L355.80 201.85 L356.30 202.07 L356.80 202.27 L357.30 202.48 L357.80 202.68 L358.30 202.89 L358.80 203.09 L359.30 203.30 L359.80 203.52 L360.30 203.75 L360.80 203.98 L361.30 204.23 L361.80 204.49 L362.30 204.77 L362.80 205.06 L363.30 205.37 L363.80 205.70 L364.30 206.05 L364.80 206.42 L365.30 206.82 L365.80 207.24 L366.30 207.68 L366.80 208.14 L367.30 208.63 L367.80 209.14 L368.30 209.67 L368.80 210.22 L369.30 210.80 L369.80 211.39 L370.30 212.00 L370.80 212.63 L371.30 213.27 L371.80 213.92 L372.30 214.58 L372.80 215.24 L373.30 215.91 L373.80 216.57 L374.30 217.23 L374.80 217.89 L375.30 218.53 L375.80 219.16 L376.30 219.77 L376.80 220.36 L377.30 220.92 L377.80 221.46 L378.30 221.97 L378.80 222.45 L379.30 222.91 L379.80 223.33 L380.30 223.71 L380.80 224.07 L381.30 224.40 L381.80 224.71 L382.30 224.98 L382.80 225.24 L383.30 225.48 L383.80 225.70 L384.30 225.92 L384.80 226.13 L385.30 226.34 L385.80 226.56 L386.30 226.78 L386.80 227.02 L387.30 227.28 L387.80 227.56 L388.30 227.87 L388.80 228.20 L389.30 228.57 L389.80 228.97 L390.30 229.40 L390.80 229.87 L391.30 230.37 L391.80 230.91 L392.30 231.47 L392.80 232.06 L393.30 232.67 L393.80 233.30 L394.30 233.94 L394.80 234.59 L395.30 235.23 L395.80 235.87 L396.30 236.49 L396.80 237.09 L397.30 237.66 L397.80 238.20 L398.30 238.70 L398.80 239.17 L399.30 239.59 L399.80 239.97 L400.30 240.31 L400.80 240.61 L401.30 240.88 L401.80 241.12 L402.30 241.34 L402.80 241.54 L403.30 241.75 L403.80 241.96 L404.30 242.18 L404.80 242.42 L405.30 242.69 L405.80 242.99 L406.30 243.34 L406.80 243.72 L407.30 244.15 L407.80 244.63 L408.30 245.15 L408.80 245.70 L409.30 246.29 L409.80 246.89 L410.30 247.51 L410.80 248.14 L411.30 248.76 L411.80 249.35 L412.30 249.92 L412.80 250.45 L413.30 250.94 L413.80 251.38 L414.30 251.76 L414.80 252.09 L415.30 252.38 L415.80 252.62 L416.30 252.84 L416.80 253.04 L417.30 253.24 L417.80 253.44 L418.30 253.66 L418.80 253.92 L419.30 254.22 L419.80 254.57 L420.30 254.97 L420.80 255.42 L421.30 255.93 L421.80 256.48 L422.30 257.06 L422.80 257.66 L423.30 258.27 L423.80 258.86 L424.30 259.43 L424.80 259.95 L425.30 260.43 L425.80 260.84 L426.30 261.20 L426.80 261.49 L427.30 261.74 L427.80 261.95 L428.30 262.14 L428.80 262.33 L429.30 262.53 L429.80 262.77 L430.30 263.05 L430.80 263.40 L431.30 263.80 L431.80 264.27 L432.30 264.79 L432.80 265.35 L433.30 265.93 L433.80 266.52 L434.30 267.09 L434.80 267.62 L435.30 268.09 L435.80 268.50 L436.30 268.84 L436.80 269.12 L437.30 269.34 L437.80 269.53 L438.30 269.71 L438.80 269.90 L439.30 270.13 L439.80 270.42 L440.30 270.77 L440.80 271.19 L441.30 271.68 L441.80 272.22 L442.30 272.78 L442.80 273.36 L443.30 273.90 L443.80 274.40 L444.30 274.84 L444.80 275.19 L445.30 275.47 L445.80 275.69 L446.30 275.87 L446.80 276.05 L447.30 276.24 L447.80 276.49 L448.30 276.80 L448.80 277.19 L449.30 277.65 L449.80 278.18 L450.30 278.73 L450.80 279.29 L451.30 279.81 L451.80 280.27 L452.30 280.65 L452.80 280.95 L453.30 281.17 L453.80 281.35 L454.30 281.52 L454.80 281.71 L455.30 281.96 L455.80 282.29 L456.30 282.71 L456.80 283.20 L457.30 283.74 L457.80 284.29 L458.30 284.80 L458.80 285.25 L459.30 285.61 L459.80 285.88 L460.30 286.09 L460.80 286.25 L461.30 286.42 L461.80 286.64 L462.30 286.94 L462.80 287.34 L463.30 287.81 L463.80 288.34 L464.30 288.87 L464.80 289.37 L465.30 289.78 L465.80 290.10 L466.30 290.33 L466.80 290.50 L467.30 290.66 L467.80 290.86 L468.30 291.14 L468.80 291.52 L469.30 291.99 L469.80 292.51 L470.30 293.03 L470.80 293.50 L471.30 293.87 L471.80 294.15 L472.30 294.34 L472.80 294.49 L473.30 294.67 L473.80 294.92" stroke="#00f"/>
<path d="M262.30 306.89 L262.80 306.39 L263.30 305.88 L263.80 305.37 L264.30 304.86 L264.80 304.36 L265.30 303.85 L265.80 303.34 L266.30 302.84 L266.80 302.33 L267.30 301.82 L267.80 301.32 L268.30 300.81 L268.80 300.31 L269.30 299.80 L269.80 299.30 L270.30 298.79 L270.80 298.29 L271.30 297.78 L271.80 297.28 L272.30 296.77 L272.80 296.27 L273.30 295.77 L273.80 295.26 L274.30 294.76 L274.80 294.26 L275.30 293.76 L275.80 293.26 L276.30 292.75 L276.80 292.25 L277.30 291.75 L277.80 291.25 L278.30 290.75 L278.80 290.25 L279.30 289.75 L279.80 289.25 L280.30 288.75 L280.80 288.25 L281.30 287.76 L281.80 287.26 L282.30 286.76 L282.80 286.26 L283.30 285.77 L283.80 285.27 L284.30 284.77 L284.80 284.28 L285.30 283.78 L285.80 283.29 L286.30 282.79 L286.80 282.30 L287.30 281.80 L287.80 281.31 L288.30 280.82 L288.80 280.33 L289.30 279.83 L289.80 279.34 L290.30 278.85 L290.80 278.36 L291.30 277.87 L291.80 277.38 L292.30 276.89 L292.80 276.40 L293.30 275.92 L293.80 275.43 L294.30 274.94 L294.80 274.45 L295.30 273.97 L295.80 273.48 L296.30 273.00 L296.80 272.51 L297.30 272.03 L297.80 271.54 L298.30 271.06 L298.80 270.58 L299.30 270.10 L299.80 269.62 L300.30 269.14 L300.80 268.66 L301.30 268.18 L301.80 267.70 L302.30 267.22 L302.80 266.74 L303.30 266.27 L303.80 265.79 L304.30 265.32 L304.80 264.84 L305.30 264.37 L305.80 263.90 L306.30 263.42 L306.80 262.95 L307.30 262.48 L307.80 262.01 L308.30 261.54 L308.80 261.07 L309.30 260.61 L309.80 260.14 L310.30 259.67 L310.80 259.21 L311.30 258.75 L311.80 258.28 L312.30 257.82 L312.80 257.36 L313.30 256.90 L313.80 256.44 L314.30 255.98 L314.80 255.52 L315.30 255.07 L315.80 254.61 L316.30 254.16 L316.80 253.71 L317.30 253.25 L317.80 252.80 L318.30 252.35 L318.80 251.91 L319.30 251.46 L319.80 251.01 L320.30 250.57 L320.80 250.12 L321.30 249.68 L321.80 249.24 L322.30 248.80 L322.80 248.36 L323.30 247.93 L323.80 247.49 L324.30 247.06 L324.80 246.62 L325.30 246.19 L325.80 245.76 L326.30 245.33 L326.80 244.91 L327.30 244.48 L327.80 244.06 L328.30 243.64 L328.80 243.22 L329.30 242.80 L329.80 242.38 L330.30 241.97 L330.80 241.55 L331.30 241.14 L331.80 240.73 L332.30 240.33 L332.80 239.92 L333.30 239.52 L333.80 239.12 L334.30 238.72 L334.80 238.32 L335.30 237.92 L335.80 237.53 L336.30 237.14 L336.80 236.75 L337.30 236.36 L337.80 235.98 L338.30 235.60 L338.80 235.22 L339.30 234.84 L339.80 234.47 L340.30 234.10 L340.80 233.73 L341.30 233.36 L341.80 233.00 L342.30 232.64 L342.80 232.28 L343.30 231.92 L343.80 231.57 L344.30 231.22 L344.80 230.88 L345.30 230.53 L345.80 230.19 L346.30 229.86 L346.80 229.52 L347.30 229.19 L347.80 228.87 L348.30 228.54 L348.80 228.22 L349.30 227.91 L349.80 227.59 L350.30 227.29 L350.80 226.98 L351.30 226.68 L351.80 226.38 L352.30 226.09 L352.80 225.80 L353.30 225.51 L353.80 225.23 L354.30 224.96 L354.80 224.68 L355.30 224.42 L355.80 224.15 L356.30 223.90 L356.80 223.64 L357.30 223.39 L357.80 223.15 L358.30 222.91 L358.80 222.67 L359.30 222.45 L359.80 222.22 L360.30 222.00 L360.80 221.79 L361.30 221.58 L361.80 221.38 L362.30 221.18 L362.80 220.99 L363.30 220.81 L363.80 220.63 L364.30 220.46 L364.80 220.29 L365.30 220.13 L365.80 219.98 L366.30 219.83 L366.80 219.69 L367.30 219.56 L367.80 219.44 L368.30 219.32 L368.80 219.21 L369.30 219.10 L369.80 219.00 L370.30 218.92 L370.80 218.83 L371.30 218.76 L371.80 218.70 L372.30 218.64 L372.80 218.59 L373.30 218.55 L373.80 218.52 L374.30 218.49 L374.80 218.48 L375.30 218.47 L375.80 218.47 L376.30 218.49 L376.80 218.51 L377.30 218.54 L377.80 218.58 L378.30 218.63 L378.80 218.69 L379.30 218.77 L379.80 218.85 L380.30 218.94 L380.80 219.04 L381.30 219.16 L381.80 219.28 L382.30 219.42 L382.80 219.56 L383.30 219.72 L383.80 219.89 L384.30 220.07 L384.80 220.27 L385.30 220.47 L385.80 220.69 L386.30 220.92 L386.80 221.16 L387.30 221.42 L387.80 221.69 L388.30 221.97 L388.80 222.27 L389.30 222.57 L389.80 222.89 L390.30 223.23 L390.80 223.58 L391.30 223.94 L391.80 224.32 L392.30 224.71 L392.80 225.11 L393.30 225.53 L393.80 225.96 L394.30 226.41 L394.80 226.87 L395.30 227.34 L395.80 227.83 L396.30 228.34 L396.80 228.86 L397.30 229.39 L397.80 229.94 L398.30 230.50 L398.80 231.07 L399.30 231.66 L399.80 232.27 L400.30 232.88 L400.80 233.51 L401.30 234.16 L401.80 234.81 L402.30 235.48 L402.80 236.16 L403.30 236.86 L403.80 237.56 L404.30 238.28 L404.80 239.00 L405.30 239.74 L405.80 240.48 L406.30 241.24 L406.80 242.00 L407.30 242.77 L407.80 243.55 L408.30 244.33 L408.80 245.11 L409.30 245.90 L409.80 246.69 L410.30 247.49 L410.80 248.28 L411.30 249.07 L411.80 249.86 L412.30 250.65 L412.80 251.43 L413.30 252.20 L413.80 252.96 L414.30 253.72 L414.80 254.46 L415.30 255.19 L415.80 255.91 L416.30 256.61 L416.80 257.30 L417.30 257.96 L417.80 258.61 L418.30 259.23 L418.80 259.83 L419.30 260.41 L419.80 260.96 L420.30 261.48 L420.80 261.98 L421.30 262.45 L421.80 262.89 L422.30 263.30 L422.80 263.68 L423.30 264.03 L423.80 264.35 L424.30 264.65 L424.80 264.91 L425.30 265.15 L425.80 265.36 L426.30 265.54 L426.80 265.70 L427.30 265.84 L427.80 265.95 L428.30 266.05 L428.80 266.12 L429.30 266.18 L429.80 266.23 L430.30 266.26 L430.80 266.29 L431.30 266.30 L431.80 266.31 L432.30 266.32 L432.80 266.33 L433.30 266.34 L433.80 266.36 L434.30 266.38 L434.80 266.41 L435.30 266.45 L435.80 266.51 L436.30 266.58 L436.80 266.67 L437.30 266.77 L437.80 266.90 L438.30 267.05 L438.80 267.23 L439.30 267.43 L439.80 267.65 L440.30 267.91 L440.80 268.19 L441.30 268.51 L441.80 268.85 L442.30 269.22 L442.80 269.63 L443.30 270.06 L443.80 270.53 L444.30 271.02 L444.80 271.55 L445.30 272.10 L445.80 272.68 L446.30 273.28 L446.80 273.91 L447.30 274.55 L447.80 275.22 L448.30 275.90 L448.80 276.60 L449.30 277.31 L449.80 278.02 L450.30 278.74 L450.80 279.45 L451.30 280.16 L451.80 280.87 L452.30 281.56 L452.80 282.23 L453.30 282.88 L453.80 283.51 L454.30 284.11 L454.80 284.68 L455.30 285.21 L455.80 285.71 L456.30 286.16 L456.80 286.57 L457.30 286.94 L457.80 287.27 L458.30 287.55 L458.80 287.79 L459.30 287.99 L459.80 288.16 L460.30 288.28 L460.80 288.38 L461.30 288.45 L461.80 288.49 L462.30 288.52 L462.80 288.53 L463.30 288.54 L463.80 288.54 L464.30 288.55 L464.80 288.56 L465.30 288.59 L465.80 288.64 L466.30 288.71 L466.80 288.81 L467.30 288.94 L467.80 289.11 L468.30 289.31 L468.80 289.56 L469.30 289.84 L469.80 290.17 L470.30 290.55 L470.80 290.96 L471.30 291.42 L471.80 291.92 L472.30 292.46 L472.80 293.03 L473.30 293.63 L473.80 294.26" stroke="#0f0"/>
<path d="M76.30 282.27 L76.80 281.76 L77.30 281.26 L77.80 280.75 L78.30 280.25 L78.80 279.74 L79.30 279.24 L79.80 278.73 L80.30 278.23 L80.80 277.72 L81.30 277.21 L81.80 276.71 L82.30 276.20 L82.80 275.70 L83.30 275.19 L83.80 274.69 L84.30 274.18 L84.80 273.68 L85.30 273.17 L85.80 272.67 L86.30 272.16 L86.80 271.66 L87.30 271.15 L87.80 270.65 L88.30 270.14 L88.80 269.64 L89.30 269.13 L89.80 268.63 L90.30 268.12 L90.80 267.62 L91.30 267.11 L91.80 266.61 L92.30 266.10 L92.80 265.60 L93.30 265.09 L93.80 264.59 L94.30 264.08 L94.80 263.58 L95.30 263.07 L95.80 262.57 L96.30 262.07 L96.80 261.56 L97.30 261.06 L97.80 260.55 L98.30 260.05 L98.80 259.54 L99.30 259.04 L99.80 258.53 L100.30 258.03 L100.80 257.53 L101.30 257.02 L101.80 256.52 L102.30 256.01 L102.80 255.51 L103.30 255.00 L103.80 254.50 L104.30 254.00 L104.80 253.49 L105.30 252.99 L105.80 252.49 L106.30 251.98 L106.80 251.48 L107.30 250.97 L107.80 250.47 L108.30 249.97 L108.80 249.46 L109.30 248.96 L109.80 248.46 L110.30 247.95 L110.80 247.45 L111.30 246.95 L111.80 246.44 L112.30 245.94 L112.80 245.44 L113.30 244.93 L113.80 244.43 L114.30 243.93 L114.80 243.43 L115.30 242.92 L115.80 242.42 L116.30 241.92 L116.80 241.41 L117.30 240.91 L117.80 240.41 L118.30 239.91 L118.80 239.41 L119.30 238.90 L119.80 238.40 L120.30 237.90 L120.80 237.40 L121.30 236.90 L121.80 236.39 L122.30 235.89 L122.80 235.39 L123.30 234.89 L123.80 234.39 L124.30 233.89 L124.80 233.39 L125.30 232.88 L125.80 232.38 L126.30 231.88 L126.80 231.38 L127.30 230.88 L127.80 230.38 L128.30 229.88 L128.80 229.38 L129.30 228.88 L129.80 228.38 L130.30 227.88 L130.80 227.38 L131.30 226.88 L131.80 226.38 L132.30 225.88 L132.80 225.38 L133.30 224.88 L133.80 224.39 L134.30 223.89 L134.80 223.39 L135.30 222.89 L135.80 222.39 L136.30 221.89 L136.80 221.40 L137.30 220.90 L137.80 220.40 L138.30 219.90 L138.80 219.41 L139.30 218.91 L139.80 218.41 L140.30 217.92 L140.80 217.42 L141.30 216.92 L141.80 216.43 L142.30 215.93 L142.80 215.44 L143.30 214.94 L143.80 214.45 L144.30 213.95 L144.80 213.46 L145.30 212.96 L145.80 212.47 L146.30 211.97 L146.80 211.48 L147.30 210.99 L147.80 210.49 L148.30 210.00 L148.80 209.51 L149.30 209.01 L149.80 208.52 L150.30 208.03 L150.80 207.54 L151.30 207.05 L151.80 206.56 L152.30 206.07 L152.80 205.58 L153.30 205.09 L153.80 204.60 L154.30 204.11 L154.80 203.62 L155.30 203.13 L155.80 202.64 L156.30 202.15 L156.80 201.66 L157.30 201.18 L157.80 200.69 L158.30 200.20 L158.80 199.72 L159.30 199.23 L159.80 198.75 L160.30 198.26 L160.80 197.78 L161.30 197.29 L161.80 196.80 L162.30 196.32 L162.80 195.83 L163.30 195.34 L163.80 194.85 L164.30 194.37 L164.80 193.88 L165.30 193.39 L165.80 192.90 L166.30 192.41 L166.80 191.92 L167.30 191.43 L167.80 190.95 L168.30 190.46 L168.80 189.97 L169.30 189.48 L169.80 188.99 L170.30 188.51 L170.80 188.02 L171.30 187.54 L171.80 187.05 L172.30 186.57 L172.80 186.08 L173.30 185.60 L173.80 185.12 L174.30 184.64 L174.80 184.15 L175.30 183.67 L175.80 183.19 L176.30 182.71 L176.80 182.23 L177.30 181.75 L177.80 181.26 L178.30 180.78 L178.80 180.30 L179.30 179.82 L179.80 179.34 L180.30 178.86 L180.80 178.38 L181.30 177.90 L181.80 177.43 L182.30 176.95 L182.80 176.47 L183.30 176.00 L183.80 175.52 L184.30 175.05 L184.80 174.58 L185.30 174.11 L185.80 173.64 L186.30 173.17 L186.80 172.70 L187.30 172.23 L187.80 171.77 L188.30 171.31 L188.80 170.85 L189.30 170.39 L189.80 169.93 L190.30 169.47 L190.80 169.02 L191.30 168.57 L191.80 168.12 L192.30 167.67 L192.80 167.22 L193.30 166.78 L193.80 166.33 L194.30 165.89 L194.80 165.45 L195.30 165.01 L195.80 164.58 L196.30 164.14 L196.80 163.71 L197.30 163.28 L197.80 162.85 L198.30 162.42 L198.80 161.99 L199.30 161.57 L199.80 161.14 L200.30 160.72 L200.80 160.30 L201.30 159.88 L201.80 159.47 L202.30 159.05 L202.80 158.64 L203.30 158.22 L203.80 157.81 L204.30 157.40 L204.80 157.00 L205.30 156.59 L205.80 156.18 L206.30 155.78 L206.80 155.38 L207.30 154.98 L207.80 154.58 L208.30 154.18 L208.80 153.79 L209.30 153.39 L209.80 153.00 L210.30 152.61 L210.80 152.22 L211.30 151.82 L211.80 151.43 L212.30 151.04 L212.80 150.64 L213.30 150.25 L213.80 149.86 L214.30 149.47 L214.80 149.07 L215.30 148.68 L215.80 148.30 L216.30 147.91 L216.80 147.52 L217.30 147.14 L217.80 146.75 L218.30 146.37 L218.80 145.99 L219.30 145.62 L219.80 145.25 L220.30 144.88 L220.80 144.51 L221.30 144.14 L221.80 143.78 L222.30 143.43 L222.80 143.07 L223.30 142.72 L223.80 142.38 L224.30 142.04 L224.80 141.70 L225.30 141.37 L225.80 141.04 L226.30 140.72 L226.80 140.39 L227.30 140.06 L227.80 139.74 L228.30 139.42 L228.80 139.10 L229.30 138.78 L229.80 138.46 L230.30 138.15 L230.80 137.84 L231.30 137.54 L231.80 137.24 L232.30 136.94 L232.80 136.65 L233.30 136.37 L233.80 136.09 L234.30 135.82 L234.80 135.56 L235.30 135.30 L235.80 135.06 L236.30 134.82 L236.80 134.59 L237.30 134.37 L237.80 134.16 L238.30 133.96 L238.80 133.78 L239.30 133.60 L239.80 133.44 L240.30 133.29 L240.80 133.14 L241.30 133.01 L241.80 132.88 L242.30 132.76 L242.80 132.64 L243.30 132.53 L243.80 132.43 L244.30 132.33 L244.80 132.24 L245.30 132.15 L245.80 132.07 L246.30 132.00 L246.80 131.93 L247.30 131.86 L247.80 131.80 L248.30 131.75 L248.80 131.70 L249.30 131.66 L249.80 131.62 L250.30 131.60 L250.80 131.58 L251.30 131.56 L251.80 131.55 L252.30 131.55 L252.80 131.55 L253.30 131.56 L253.80 131.57 L254.30 131.59 L254.80 131.61 L255.30 131.64 L255.80 131.67 L256.30 131.70 L256.80 131.74 L257.30 131.79 L257.80 131.84 L258.30 131.89 L258.80 131.95 L259.30 132.02 L259.80 132.09 L260.30 132.16 L260.80 132.24 L261.30 132.33 L261.80 132.42 L262.30 132.51 L262.80 132.61 L263.30 132.71 L263.80 132.82 L264.30 132.94 L264.80 133.06 L265.30 133.18 L265.80 133.31 L266.30 133.44 L266.80 133.58 L267.30 133.72 L267.80 133.87 L268.30 134.02 L268.80 134.17 L269.30 134.33 L269.80 134.50 L270.30 134.67 L270.80 134.84 L271.30 135.02 L271.80 135.21 L272.30 135.39 L272.80 135.58 L273.30 135.78 L273.80 135.98 L274.30 136.18 L274.80 136.39 L275.30 136.60 L275.80 136.82 L276.30 137.04 L276.80 137.26 L277.30 137.49 L277.80 137.72 L278.30 137.96 L278.80 138.20 L279.30 138.44 L279.80 138.69 L280.30 138.95 L280.80 139.20 L281.30 139.46 L281.80 139.73 L282.30 139.99 L282.80 140.27 L283.30 140.54 L283.80 140.82 L284.30 141.10 L284.80 141.39 L285.30 141.68 L285.80 141.98 L286.30 142.28 L286.80 142.58 L287.30 142.88 L287.80 143.19 L288.30 143.51 L288.80 143.82 L289.30 144.15 L289.80 144.47 L290.30 144.80 L290.80 145.13 L291.30 145.46 L291.80 145.80 L292.30 146.14 L292.80 146.48 L293.30 146.83 L293.80 147.18 L294.30 147.53 L294.80 147.89 L295.30 148.25 L295.80 148.61 L296.30 148.97 L296.80 149.34 L297.30 149.71 L297.80 150.08 L298.30 150.46 L298.80 150.83 L299.30 151.21 L299.80 151.59 L300.30 151.98 L300.80 152.37 L301.30 152.76 L301.80 153.15 L302.30 153.54 L302.80 153.94 L303.30 154.33 L303.80 154.73 L304.30 155.14 L304.80 155.54 L305.30 155.95 L305.80 156.37 L306.30 156.78 L306.80 157.20 L307.30 157.62 L307.80 158.04 L308.30 158.46 L308.80 158.89 L309.30 159.31 L309.80 159.74 L310.30 160.17 L310.80 160.60 L311.30 161.03 L311.80 161.46 L312.30 161.88 L312.80 162.31 L313.30 162.74 L313.80 163.17 L314.30 163.60 L314.80 164.03 L315.30 164.46 L315.80 164.89 L316.30 165.32 L316.80 165.76 L317.30 166.19 L317.80 166.63 L318.30 167.07 L318.80 167.50 L319.30 167.94 L319.80 168.38 L320.30 168.82 L320.80 169.25 L321.30 169.69 L321.80 170.13 L322.30 170.56 L322.80 171.00 L323.30 171.43 L323.80 171.86 L324.30 172.29 L324.80 172.71 L325.30 173.14 L325.80 173.57 L326.30 173.99 L326.80 174.42 L327.30 174.85 L327.80 175.28 L328.30 175.71 L328.80 176.14 L329.30 176.57 L329.80 177.00 L330.30 177.43 L330.80 177.87 L331.30 178.30 L331.80 178.74 L332.30 179.17 L332.80 179.61 L333.30 180.05 L333.80 180.48 L334.30 180.92 L334.80 181.36 L335.30 181.80 L335.80 182.24 L336.30 182.68 L336.80 183.12 L337.30 183.56 L337.80 184.00 L338.30 184.44 L338.80 184.88 L339.30 185.32 L339.80 185.77 L340.30 186.21 L340.80 186.65 L341.30 187.10 L341.80 187.54 L342.30 187.98 L342.80 188.43 L343.30 188.87 L343.80 189.32 L344.30 189.77 L344.80 190.21 L345.30 190.66 L345.80 191.10 L346.30 191.55 L346.80 192.00 L347.30 192.44 L347.80 192.89 L348.30 193.34 L348.80 193.78 L349.30 194.23 L349.80 194.68 L350.30 195.13 L350.80 195.58 L351.30 196.02 L351.80 196.47 L352.30 196.92 L352.80 197.37 L353.30 197.82 L353.80 198.26 L354.30 198.71 L354.80 199.16 L355.30 199.61 L355.80 200.06 L356.30 200.51 L356.80 200.96 L357.30 201.40 L357.80 201.85 L358.30 202.30 L358.80 202.75 L359.30 203.20 L359.80 203.65 L360.30 204.09 L360.80 204.54 L361.30 204.99 L361.80 205.44 L362.30 205.89 L362.80 206.33 L363.30 206.78 L363.80 207.23 L364.30 207.68 L364.80 208.12 L365.30 208.57 L365.80 209.02 L366.30 209.46 L366.80 209.91 L367.30 210.36 L367.80 210.80 L368.30 211.25 L368.80 211.70 L369.30 212.14 L369.80 212.59 L370.30 213.03 L370.80 213.48 L371.30 213.92 L371.80 214.37 L372.30 214.81 L372.80 215.26 L373.30 215.70 L373.80 216.14 L374.30 216.59 L374.80 217.03 L375.30 217.47 L375.80 217.92 L376.30 218.36 L376.80 218.80 L377.30 219.24 L377.80 219.69 L378.30 220.13 L378.80 220.57 L379.30 221.01 L379.80 221.45 L380.30 221.89 L380.80 222.33 L381.30 222.77 L381.80 223.21 L382.30 223.65 L382.80 224.09 L383.30 224.52 L383.80 224.96 L384.30 225.40 L384.80 225.84 L385.30 226.27 L385.80 226.71 L386.30 227.14 L386.80 227.58 L387.30 228.01 L387.80 228.45 L388.30 228.88 L388.80 229.32 L389.30 229.75 L389.80 230.18 L390.30 230.62 L390.80 231.05 L391.30 231.48 L391.80 231.91 L392.30 232.34 L392.80 232.77 L393.30 233.21 L393.80 233.63 L394.30 234.06 L394.80 234.49 L395.30 234.92 L395.80 235.35 L396.30 235.78 L396.80 236.20 L397.30 236.63 L397.80 237.06 L398.30 237.48 L398.80 237.91 L399.30 238.33 L399.80 238.76 L400.30 239.18 L400.80 239.60 L401.30 240.03 L401.80 240.45 L402.30 240.87 L402.80 241.29 L403.30 241.71 L403.80 242.13 L404.30 242.55 L404.80 242.97 L405.30 243.39 L405.80 243.81 L406.30 244.23 L406.80 244.64 L407.30 245.06 L407.80 245.48 L408.30 245.89 L408.80 246.31 L409.30 246.72 L409.80 247.14 L410.30 247.55 L410.80 247.96 L411.30 248.38 L411.80 248.79 L412.30 249.20 L412.80 249.61 L413.30 250.02 L413.80 250.43 L414.30 250.84 L414.80 251.25 L415.30 251.65 L415.80 252.06 L416.30 252.47 L416.80 252.87 L417.30 253.28 L417.80 253.69 L418.30 254.09 L418.80 254.49 L419.30 254.90 L419.80 255.30 L420.30 255.70 L420.80 256.10 L421.30 256.51 L421.80 256.91 L422.30 257.31 L422.80 257.70 L423.30 258.10 L423.80 258.50 L424.30 258.90 L424.80 259.30 L425.30 259.69 L425.80 260.09 L426.30 260.48 L426.80 260.88 L427.30 261.27 L427.80 261.66 L428.30 262.06 L428.80 262.45 L429.30 262.84 L429.80 263.23 L430.30 263.62 L430.80 264.01 L431.30 264.40 L431.80 264.79 L432.30 265.18 L432.80 265.56 L433.30 265.95 L433.80 266.34 L434.30 266.72 L434.80 267.11 L435.30 267.49 L435.80 267.87 L436.30 268.26 L436.80 268.64 L437.30 269.02 L437.80 269.40 L438.30 269.78 L438.80 270.16 L439.30 270.54 L439.80 270.92 L440.30 271.30 L440.80 271.68 L441.30 272.05 L441.80 272.43 L442.30 272.80 L442.80 273.18 L443.30 273.55 L443.80 273.93 L444.30 274.30 L444.80 274.67 L445.30 275.04 L445.80 275.41 L446.30 275.79 L446.80 276.16 L447.30 276.52 L447.80 276.89 L448.30 277.26 L448.80 277.63 L449.30 278.00 L449.80 278.36 L450.30 278.73 L450.80 279.09 L451.30 279.46 L451.80 279.82 L452.30 280.18 L452.80 280.55 L453.30 280.91 L453.80 281.27 L454.30 281.63 L454.80 281.99 L455.30 282.35 L455.80 282.71 L456.30 283.07 L456.80 283.42 L457.30 283.78 L457.80 284.14 L458.30 284.49 L458.80 284.85 L459.30 285.20 L459.80 285.56 L460.30 285.91 L460.80 286.26 L461.30 286.61 L461.80 286.97 L462.30 287.32 L462.80 287.67 L463.30 288.02 L463.80 288.37 L464.30 288.71 L464.80 289.06 L465.30 289.41 L465.80 289.76 L466.30 290.10 L466.80 290.45 L467.30 290.79 L467.80 291.14 L468.30 291.48 L468.80 291.82 L469.30 292.17 L469.80 292.51 L470.30 292.85 L470.80 293.19 L471.30 293.53 L471.80 293.87 L472.30 294.21 L472.80 294.55 L473.30 294.89 L473.80 295.23" stroke="#f00" stroke-dasharray="8.6 2.4 1.8 2.4"/>
<path d="M76.30 282.27 L76.80 281.76 L77.30 281.26 L77.80 280.75 L78.30 280.25 L78.80 279.74 L79.30 279.24 L79.80 278.73 L80.30 278.23 L80.80 277.72 L81.30 277.21 L81.80 276.71 L82.30 276.20 L82.80 275.70 L83.30 275.19 L83.80 274.69 L84.30 274.18 L84.80 273.68 L85.30 273.17 L85.80 272.67 L86.30 272.16 L86.80 271.66 L87.30 271.15 L87.80 270.65 L88.30 270.14 L88.80 269.64 L89.30 269.13 L89.80 268.63 L90.30 268.12 L90.80 267.62 L91.30 267.11 L91.80 266.61 L92.30 266.10 L92.80 265.60 L93.30 265.09 L93.80 264.59 L94.30 264.08 L94.80 263.58 L95.30 263.07 L95.80 262.57 L96.30 262.07 L96.80 261.56 L97.30 261.06 L97.80 260.55 L98.30 260.05 L98.80 259.54 L99.30 259.04 L99.80 258.53 L100.30 258.03 L100.80 257.53 L101.30 257.02 L101.80 256.52 L102.30 256.01 L102.80 255.51 L103.30 255.00 L103.80 254.50 L104.30 254.00 L104.80 253.49 L105.30 252.99 L105.80 252.49 L106.30 251.98 L106.80 251.48 L107.30 250.97 L107.80 250.47 L108.30 249.97 L108.80 249.46 L109.30 248.96 L109.80 248.46 L110.30 247.95 L110.80 247.45 L111.30 246.95 L111.80 246.44 L112.30 245.94 L112.80 245.44 L113.30 244.93 L113.80 244.43 L114.30 243.93 L114.80 243.43 L115.30 242.92 L115.80 242.42 L116.30 241.92 L116.80 241.41 L117.30 240.91 L117.80 240.41 L118.30 239.91 L118.80 239.41 L119.30 238.90 L119.80 238.40 L120.30 237.90 L120.80 237.40 L121.30 236.90 L121.80 236.39 L122.30 235.89 L122.80 235.39 L123.30 234.89 L123.80 234.39 L124.30 233.89 L124.80 233.39 L125.30 232.88 L125.80 232.38 L126.30 231.88 L126.80 231.38 L127.30 230.88 L127.80 230.38 L128.30 229.88 L128.80 229.38 L129.30 228.88 L129.80 228.38 L130.30 227.88 L130.80 227.38 L131.30 226.88 L131.80 226.38 L132.30 225.88 L132.80 225.38 L133.30 224.88 L133.80 224.39 L134.30 223.89 L134.80 223.39 L135.30 222.89 L135.80 222.39 L136.30 221.89 L136.80 221.40 L137.30 220.90 L137.80 220.40 L138.30 219.90 L138.80 219.41 L139.30 218.91 L139.80 218.41 L140.30 217.92 L140.80 217.42 L141.30 216.92 L141.80 216.43 L142.30 215.93 L142.80 215.44 L143.30 214.94 L143.80 214.45 L144.30 213.95 L144.80 213.46 L145.30 212.96 L145.80 212.47 L146.30 211.97 L146.80 211.48 L147.30 210.99 L147.80 210.49 L148.30 210.00 L148.80 209.51 L149.30 209.01 L149.80 208.52 L150.30 208.03 L150.80 207.54 L151.30 207.05 L151.80 206.56 L152.30 206.07 L152.80 205.58 L153.30 205.09 L153.80 204.60 L154.30 204.11 L154.80 203.62 L155.30 203.13 L155.80 202.64 L156.30 202.15 L156.80 201.66 L157.30 201.18 L157.80 200.69 L158.30 200.20 L158.80 199.72 L159.30 199.23 L159.80 198.75 L160.30 198.26 L160.80 197.77 L161.30 197.28 L161.80 196.78 L162.30 196.29 L162.80 195.78 L163.30 195.28 L163.80 194.77 L164.30 194.26 L164.80 193.75 L165.30 193.24 L165.80 192.72 L166.30 192.20 L166.80 191.69 L167.30 191.17 L167.80 190.65 L168.30 190.12 L168.80 189.60 L169.30 189.08 L169.80 188.56 L170.30 188.03 L170.80 187.51 L171.30 186.99 L171.80 186.46 L172.30 185.94 L172.80 185.42 L173.30 184.90 L173.80 184.38 L174.30 183.87 L174.80 183.35 L175.30 182.82 L175.80 182.30 L176.30 181.77 L176.80 181.24 L177.30 180.71 L177.80 180.18 L178.30 179.64 L178.80 179.10 L179.30 178.57 L179.80 178.03 L180.30 177.49 L180.80 176.95 L181.30 176.41 L181.80 175.88 L182.30 175.34 L182.80 174.80 L183.30 174.26 L183.80 173.72 L184.30 173.19 L184.80 172.65 L185.30 172.12 L185.80 171.59 L186.30 171.06 L186.80 170.53 L187.30 170.01 L187.80 169.48 L188.30 168.96 L188.80 168.45 L189.30 167.93 L189.80 167.42 L190.30 166.91 L190.80 166.41 L191.30 165.91 L191.80 165.41 L192.30 164.92 L192.80 164.43 L193.30 163.94 L193.80 163.45 L194.30 162.97 L194.80 162.49 L195.30 162.01 L195.80 161.53 L196.30 161.06 L196.80 160.58 L197.30 160.11 L197.80 159.64 L198.30 159.18 L198.80 158.71 L199.30 158.24 L199.80 157.78 L200.30 157.32 L200.80 156.86 L201.30 156.40 L201.80 155.94 L202.30 155.48 L202.80 155.02 L203.30 154.56 L203.80 154.10 L204.30 153.65 L204.80 153.19 L205.30 152.73 L205.80 152.27 L206.30 151.82 L206.80 151.36 L207.30 150.90 L207.80 150.44 L208.30 149.98 L208.80 149.52 L209.30 149.06 L209.80 148.60 L210.30 148.13 L210.80 147.66 L211.30 147.18 L211.80 146.69 L212.30 146.19 L212.80 145.69 L213.30 145.18 L213.80 144.67 L214.30 144.16 L214.80 143.63 L215.30 143.11 L215.80 142.58 L216.30 142.05 L216.80 141.52 L217.30 140.99 L217.80 140.46 L218.30 139.93 L218.80 139.40 L219.30 138.87 L219.80 138.34 L220.30 137.81 L220.80 137.29 L221.30 136.78 L221.80 136.26 L222.30 135.75 L222.80 135.25 L223.30 134.75 L223.80 134.26 L224.30 133.78 L224.80 133.31 L225.30 132.84 L225.80 132.38 L226.30 131.91 L226.80 131.44 L227.30 130.96 L227.80 130.47 L228.30 129.99 L228.80 129.50 L229.30 129.01 L229.80 128.52 L230.30 128.04 L230.80 127.56 L231.30 127.08 L231.80 126.61 L232.30 126.15 L232.80 125.70 L233.30 125.26 L233.80 124.83 L234.30 124.41 L234.80 124.01 L235.30 123.63 L235.80 123.26 L236.30 122.91 L236.80 122.59 L237.30 122.28 L237.80 122.00 L238.30 121.74 L238.80 121.50 L239.30 121.30 L239.80 121.12 L240.30 120.97 L240.80 120.83 L241.30 120.71 L241.80 120.59 L242.30 120.49 L242.80 120.40 L243.30 120.32 L243.80 120.25 L244.30 120.19 L244.80 120.13 L245.30 120.09 L245.80 120.05 L246.30 120.01 L246.80 119.98 L247.30 119.96 L247.80 119.94 L248.30 119.93 L248.80 119.93 L249.30 119.94 L249.80 119.96 L250.30 119.99 L250.80 120.03 L251.30 120.09 L251.80 120.15 L252.30 120.21 L252.80 120.29 L253.30 120.37 L253.80 120.45 L254.30 120.54 L254.80 120.63 L255.30 120.73 L255.80 120.83 L256.30 120.93 L256.80 121.04 L257.30 121.15 L257.80 121.26 L258.30 121.39 L258.80 121.51 L259.30 121.64 L259.80 121.78 L260.30 121.92 L260.80 122.07 L261.30 122.23 L261.80 122.38 L262.30 122.55 L262.80 122.71 L263.30 122.89 L263.80 123.07 L264.30 123.25 L264.80 123.44 L265.30 123.63 L265.80 123.83 L266.30 124.03 L266.80 124.23 L267.30 124.45 L267.80 124.66 L268.30 124.88 L268.80 125.11 L269.30 125.34 L269.80 125.57 L270.30 125.81 L270.80 126.05 L271.30 126.30 L271.80 126.55 L272.30 126.81 L272.80 127.07 L273.30 127.33 L273.80 127.60 L274.30 127.87 L274.80 128.14 L275.30 128.42 L275.80 128.70 L276.30 128.99 L276.80 129.28 L277.30 129.57 L277.80 129.87 L278.30 130.18 L278.80 130.48 L279.30 130.79 L279.80 131.11 L280.30 131.43 L280.80 131.75 L281.30 132.08 L281.80 132.41 L282.30 132.75 L282.80 133.09 L283.30 133.44 L283.80 133.79 L284.30 134.14 L284.80 134.50 L285.30 134.87 L285.80 135.23 L286.30 135.61 L286.80 135.99 L287.30 136.37 L287.80 136.76 L288.30 137.15 L288.80 137.55 L289.30 137.95 L289.80 138.36 L290.30 138.77 L290.80 139.18 L291.30 139.60 L291.80 140.02 L292.30 140.45 L292.80 140.88 L293.30 141.32 L293.80 141.76 L294.30 142.20 L294.80 142.65 L295.30 143.10 L295.80 143.55 L296.30 144.01 L296.80 144.47 L297.30 144.93 L297.80 145.40 L298.30 145.87 L298.80 146.34 L299.30 146.82 L299.80 147.30 L300.30 147.78 L300.80 148.26 L301.30 148.75 L301.80 149.24 L302.30 149.73 L302.80 150.22 L303.30 150.72 L303.80 151.22 L304.30 151.72 L304.80 152.24 L305.30 152.75 L305.80 153.28 L306.30 153.81 L306.80 154.34 L307.30 154.87 L307.80 155.41 L308.30 155.95 L308.80 156.49 L309.30 157.04 L309.80 157.58 L310.30 158.12 L310.80 158.66 L311.30 159.20 L311.80 159.73 L312.30 160.27 L312.80 160.79 L313.30 161.32 L313.80 161.83 L314.30 162.35 L314.80 162.85 L315.30 163.36 L315.80 163.86 L316.30 164.38 L316.80 164.89 L317.30 165.40 L317.80 165.92 L318.30 166.43 L318.80 166.95 L319.30 167.46 L319.80 167.97 L320.30 168.47 L320.80 168.97 L321.30 169.47 L321.80 169.95 L322.30 170.44 L322.80 170.91 L323.30 171.38 L323.80 171.83 L324.30 172.28 L324.80 172.71 L325.30 173.14 L325.80 173.57 L326.30 173.99 L326.80 174.42 L327.30 174.85 L327.80 175.28 L328.30 175.71 L328.80 176.14 L329.30 176.57 L329.80 177.00 L330.30 177.43 L330.80 177.87 L331.30 178.30 L331.80 178.74 L332.30 179.17 L332.80 179.61 L333.30 180.05 L333.80 180.48 L334.30 180.92 L334.80 181.36 L335.30 181.80 L335.80 182.24 L336.30 182.68 L336.80 183.12 L337.30 183.56 L337.80 184.00 L338.30 184.44 L338.80 184.88 L339.30 185.32 L339.80 185.77 L340.30 186.21 L340.80 186.65 L341.30 187.10 L341.80 187.54 L342.30 187.98 L342.80 188.43 L343.30 188.87 L343.80 189.32 L344.30 189.77 L344.80 190.21 L345.30 190.66 L345.80 191.10 L346.30 191.55 L346.80 192.00 L347.30 192.44 L347.80 192.89 L348.30 193.34 L348.80 193.78 L349.30 194.23 L349.80 194.68 L350.30 195.13 L350.80 195.58 L351.30 196.02 L351.80 196.47 L352.30 196.92 L352.80 197.37 L353.30 197.82 L353.80 198.26 L354.30 198.71 L354.80 199.16 L355.30 199.61 L355.80 200.06 L356.30 200.51 L356.80 200.96 L357.30 201.40 L357.80 201.85 L358.30 202.30 L358.80 202.75 L359.30 203.20 L359.80 203.65 L360.30 204.09 L360.80 204.54 L361.30 204.99 L361.80 205.44 L362.30 205.89 L362.80 206.33 L363.30 206.78 L363.80 207.23 L364.30 207.68 L364.80 208.12 L365.30 208.57 L365.80 209.02 L366.30 209.46 L366.80 209.91 L367.30 210.36 L367.80 210.80 L368.30 211.25 L368.80 211.70 L369.30 212.14 L369.80 212.59 L370.30 213.03 L370.80 213.48 L371.30 213.92 L371.80 214.37 L372.30 214.81 L372.80 215.26 L373.30 215.70 L373.80 216.14 L374.30 216.59 L374.80 217.03 L375.30 217.47 L375.80 217.92 L376.30 218.36 L376.80 218.80 L377.30 219.24 L377.80 219.69 L378.30 220.13 L378.80 220.57 L379.30 221.01 L379.80 221.45 L380.30 221.89 L380.80 222.33 L381.30 222.77 L381.80 223.21 L382.30 223.65 L382.80 224.09 L383.30 224.52 L383.80 224.96 L384.30 225.40 L384.80 225.84 L385.30 226.27 L385.80 226.71 L386.30 227.14 L386.80 227.58 L387.30 228.01 L387.80 228.45 L388.30 228.88 L388.80 229.32 L389.30 229.75 L389.80 230.18 L390.30 230.62 L390.80 231.05 L391.30 231.48 L391.80 231.91 L392.30 232.34 L392.80 232.77 L393.30 233.21 L393.80 233.63 L394.30 234.06 L394.80 234.49 L395.30 234.92 L395.80 235.35 L396.30 235.78 L396.80 236.20 L397.30 236.63 L397.80 237.06 L398.30 237.48 L398.80 237.91 L399.30 238.33 L399.80 238.76 L400.30 239.18 L400.80 239.60 L401.30 240.03 L401.80 240.45 L402.30 240.87 L402.80 241.29 L403.30 241.71 L403.80 242.13 L404.30 242.55 L404.80 242.97 L405.30 243.39 L405.80 243.81 L406.30 244.23 L406.80 244.64 L407.30 245.06 L407.80 245.48 L408.30 245.89 L408.80 246.31 L409.30 246.72 L409.80 247.14 L410.30 247.55 L410.80 247.96 L411.30 248.38 L411.80 248.79 L412.30 249.20 L412.80 249.61 L413.30 250.02 L413.80 250.43 L414.30 250.84 L414.80 251.25 L415.30 251.65 L415.80 252.06 L416.30 252.47 L416.80 252.87 L417.30 253.28 L417.80 253.69 L418.30 254.09 L418.80 254.49 L419.30 254.90 L419.80 255.30 L420.30 255.70 L420.80 256.10 L421.30 256.51 L421.80 256.91 L422.30 257.31 L422.80 257.70 L423.30 258.10 L423.80 258.50 L424.30 258.90 L424.80 259.30 L425.30 259.69 L425.80 260.09 L426.30 260.48 L426.80 260.88 L427.30 261.27 L427.80 261.66 L428.30 262.06 L428.80 262.45 L429.30 262.84 L429.80 263.23 L430.30 263.62 L430.80 264.01 L431.30 264.40 L431.80 264.79 L432.30 265.18 L432.80 265.56 L433.30 265.95 L433.80 266.34 L434.30 266.72 L434.80 267.11 L435.30 267.49 L435.80 267.87 L436.30 268.26 L436.80 268.64 L437.30 269.02 L437.80 269.40 L438.30 269.78 L438.80 270.16 L439.30 270.54 L439.80 270.92 L440.30 271.30 L440.80 271.68 L441.30 272.05 L441.80 272.43 L442.30 272.80 L442.80 273.18 L443.30 273.55 L443.80 273.93 L444.30 274.30 L444.80 274.67 L445.30 275.04 L445.80 275.41 L446.30 275.79 L446.80 276.16 L447.30 276.52 L447.80 276.89 L448.30 277.26 L448.80 277.63 L449.30 278.00 L449.80 278.36 L450.30 278.73 L450.80 279.09 L451.30 279.46 L451.80 279.82 L452.30 280.18 L452.80 280.55 L453.30 280.91 L453.80 281.27 L454.30 281.63 L454.80 281.99 L455.30 282.35 L455.80 282.71 L456.30 283.07 L456.80 283.42 L457.30 283.78 L457.80 284.14 L458.30 284.49 L458.80 284.85 L459.30 285.20 L459.80 285.56 L460.30 285.91 L460.80 286.26 L461.30 286.61 L461.80 286.97 L462.30 287.32 L462.80 287.67 L463.30 288.02 L463.80 288.37 L464.30 288.71 L464.80 289.06 L465.30 289.41 L465.80 289.76 L466.30 290.10 L466.80 290.45 L467.30 290.79 L467.80 291.14 L468.30 291.48 L468.80 291.82 L469.30 292.17 L469.80 292.51 L470.30 292.85 L470.80 293.19 L471.30 293.53 L471.80 293.87 L472.30 294.21 L472.80 294.55 L473.30 294.89 L473.80 295.23" stroke="#f00" stroke-dasharray="4.4 3.7 2 3.8"/>
<rect x="157.5" y="208" width="15.5" height="89" fill="#fff" stroke="none"/>
<rect x="237.5" y="216" width="14.5" height="81" fill="#fff" stroke="none"/>
</g>
<path d="M82.95 302.40V300.10 M82.95 20.30V22.60 M94.10 302.40V298.00 M94.10 20.30V24.70 M128.73 302.40V300.10 M128.73 20.30V22.60 M174.52 302.40V300.10 M174.52 20.30V22.60 M198.00 302.40V300.10 M198.00 20.30V22.60 M209.15 302.40V298.00 M209.15 20.30V24.70 M243.78 302.40V300.10 M243.78 20.30V22.60 M289.57 302.40V300.10 M289.57 20.30V22.60 M313.05 302.40V300.10 M313.05 20.30V22.60 M324.20 302.40V298.00 M324.20 20.30V24.70 M358.83 302.40V300.10 M358.83 20.30V22.60 M404.62 302.40V300.10 M404.62 20.30V22.60 M428.10 302.40V300.10 M428.10 20.30V22.60 M439.25 302.40V298.00 M439.25 20.30V24.70 M76.30 299.29H78.60 M473.85 299.29H471.55 M76.30 293.33H78.60 M473.85 293.33H471.55 M76.30 288.00H80.70 M473.85 288.00H469.45 M76.30 252.95H78.60 M473.85 252.95H471.55 M76.30 232.44H78.60 M473.85 232.44H471.55 M76.30 217.89H78.60 M473.85 217.89H471.55 M76.30 206.60H78.60 M473.85 206.60H471.55 M76.30 197.38H78.60 M473.85 197.38H471.55 M76.30 189.59H78.60 M473.85 189.59H471.55 M76.30 182.84H78.60 M473.85 182.84H471.55 M76.30 176.88H78.60 M473.85 176.88H471.55 M76.30 171.55H80.70 M473.85 171.55H469.45 M76.30 136.50H78.60 M473.85 136.50H471.55 M76.30 115.99H78.60 M473.85 115.99H471.55 M76.30 101.44H78.60 M473.85 101.44H471.55 M76.30 90.15H78.60 M473.85 90.15H471.55 M76.30 80.93H78.60 M473.85 80.93H471.55 M76.30 73.14H78.60 M473.85 73.14H471.55 M76.30 66.39H78.60 M473.85 66.39H471.55 M76.30 60.43H78.60 M473.85 60.43H471.55 M76.30 55.10H80.70 M473.85 55.10H469.45" stroke="#1a1a1a" stroke-width="1" fill="none"/>
<rect x="76.30" y="20.30" width="397.55" height="282.10" fill="none" stroke="#181818" stroke-width="1.3"/>
<g font-family="Liberation Serif, serif" fill="#1c1c1c" opacity="0.99" stroke="#fff" stroke-width="0.3">
<text transform="translate(44.10,59.05) scale(1.026,1)" font-size="14.96" stroke-width="0.18">100</text>
<text transform="translate(51.58,175.55) scale(1.029,1)" font-size="15.11" stroke-width="0.18">10</text>
<text transform="translate(59.23,291.80) scale(1.037,1)" font-size="14.39" stroke-width="0.17">1</text>
<text transform="translate(79.19,321.98) scale(1.027,1)" font-size="14.85" stroke-width="0.18">0.001</text>
<text transform="translate(197.92,321.98) scale(0.975,1)" font-size="14.85" stroke-width="0.18">0.01</text>
<text transform="translate(317.13,321.98) scale(0.960,1)" font-size="14.85" stroke-width="0.18">0.1</text>
<text transform="translate(437.66,322.00) scale(1.052,1)" font-size="15.00" stroke-width="0.18">1</text>
<text transform="translate(222.26,344.57) scale(0.793,1)" font-size="17.80" stroke-width="0.21">(</text>
<text transform="translate(227.55,345.80) scale(0.913,1)" font-size="16.49" font-style="italic" stroke-width="0.20">M</text>
<text transform="translate(241.22,337.40) scale(1.245,1)" font-size="8.64" stroke-width="0.10">2</text>
<text transform="translate(240.77,348.90) scale(1.463,1)" font-size="8.03" stroke-width="0.10">2</text>
<text transform="translate(252.95,345.80) scale(1.221,1)" font-size="15.50" stroke-width="0.19">−</text>
<text transform="translate(270.05,345.80) scale(0.927,1)" font-size="16.49" font-style="italic" stroke-width="0.20">M</text>
<text transform="translate(283.72,337.40) scale(1.245,1)" font-size="8.64" stroke-width="0.10">2</text>
<text transform="translate(283.83,348.90) scale(1.123,1)" font-size="8.03" stroke-width="0.10">1</text>
<text transform="translate(289.10,344.57) scale(0.756,1)" font-size="17.80" stroke-width="0.21">)</text>
<text transform="translate(294.50,348.16) scale(0.887,1)" font-size="24.18" stroke-width="0.29">/</text>
<text transform="translate(301.05,345.80) scale(0.927,1)" font-size="16.49" font-style="italic" stroke-width="0.20">M</text>
<text transform="translate(314.72,337.40) scale(1.245,1)" font-size="8.64" stroke-width="0.10">2</text>
<text transform="translate(314.83,348.90) scale(1.123,1)" font-size="8.03" stroke-width="0.10">1</text>
<text transform="translate(83.87,48.10) scale(1.130,1)" font-size="12.98" font-style="italic" stroke-width="0.16">R</text>
<text transform="translate(92.98,42.20) scale(1.574,1)" font-size="7.90" font-style="italic" stroke-width="0.09">Boltzmann</text>
<text transform="translate(92.17,49.70) scale(1.563,1)" font-size="7.90" font-style="italic" stroke-width="0.09">max</text>
<text transform="translate(83.97,154.90) scale(1.092,1)" font-size="13.13" font-style="italic" stroke-width="0.16">R</text>
<text transform="translate(93.03,149.46) scale(1.595,1)" font-size="7.88" font-style="italic" stroke-width="0.09">KB</text>
<text transform="translate(92.07,156.90) scale(1.547,1)" font-size="7.90" font-style="italic" stroke-width="0.09">max</text>
<text transform="translate(363.88,40.50) scale(1.128,1)" font-size="13.89" font-style="italic" stroke-width="0.17">R</text>
<text transform="translate(373.98,34.60) scale(1.550,1)" font-size="7.90" font-style="italic" stroke-width="0.09">Boltzmann</text>
<text transform="translate(363.88,63.80) scale(1.128,1)" font-size="13.89" font-style="italic" stroke-width="0.17">R</text>
<text transform="translate(373.73,58.26) scale(1.605,1)" font-size="7.88" font-style="italic" stroke-width="0.09">KB</text>
<text transform="translate(363.88,86.90) scale(1.128,1)" font-size="13.89" font-style="italic" stroke-width="0.17">R</text>
<text transform="translate(373.73,81.36) scale(1.605,1)" font-size="7.88" font-style="italic" stroke-width="0.09">KB</text>
<text transform="translate(363.88,109.80) scale(1.128,1)" font-size="13.89" font-style="italic" stroke-width="0.17">R</text>
<text transform="translate(373.73,104.26) scale(1.605,1)" font-size="7.88" font-style="italic" stroke-width="0.09">KB</text>
<text transform="translate(363.88,133.00) scale(1.128,1)" font-size="13.89" font-style="italic" stroke-width="0.17">R</text>
<text transform="translate(373.73,127.46) scale(1.605,1)" font-size="7.88" font-style="italic" stroke-width="0.09">KB</text>
<text transform="translate(363.88,155.90) scale(1.128,1)" font-size="13.89" font-style="italic" stroke-width="0.17">R</text>
<text transform="translate(373.73,150.36) scale(1.605,1)" font-size="7.88" font-style="italic" stroke-width="0.09">KB</text>
<text transform="translate(390.74,63.80) scale(0.899,1)" font-size="13.96" stroke-width="0.17">(</text>
<text transform="translate(395.24,63.80) scale(1.317,1)" font-size="12.80" font-style="italic" stroke-width="0.15">t</text>
<text transform="translate(403.42,64.30) scale(1.529,1)" font-size="12.80" stroke-width="0.15">=</text>
<text transform="translate(390.74,86.90) scale(0.899,1)" font-size="13.96" stroke-width="0.17">(</text>
<text transform="translate(395.24,86.90) scale(1.317,1)" font-size="12.80" font-style="italic" stroke-width="0.15">t</text>
<text transform="translate(403.42,87.40) scale(1.529,1)" font-size="12.80" stroke-width="0.15">=</text>
<text transform="translate(390.74,109.80) scale(0.899,1)" font-size="13.96" stroke-width="0.17">(</text>
<text transform="translate(395.24,109.80) scale(1.317,1)" font-size="12.80" font-style="italic" stroke-width="0.15">t</text>
<text transform="translate(403.42,110.30) scale(1.529,1)" font-size="12.80" stroke-width="0.15">=</text>
<text transform="translate(416.81,65.25) scale(1.140,1)" font-size="17.40" stroke-width="0.21">∞</text>
<text transform="translate(430.48,63.80) scale(0.992,1)" font-size="13.96" stroke-width="0.17">)</text>
<text transform="translate(418.29,86.90) scale(0.841,1)" font-size="12.73" stroke-width="0.15">1</text>
<text transform="translate(424.70,89.71) scale(1.055,1)" font-size="18.96" stroke-width="0.23">/</text>
<text transform="translate(430.46,86.90) scale(1.098,1)" font-size="13.44" stroke-width="0.16">Γ</text>
<text transform="translate(439.21,88.40) scale(1.037,1)" font-size="7.88" stroke-width="0.09">1</text>
<text transform="translate(444.08,86.90) scale(0.992,1)" font-size="13.96" stroke-width="0.17">)</text>
<text transform="translate(416.94,109.71) scale(1.121,1)" font-size="12.50" stroke-width="0.15">0.25</text>
<text transform="translate(441.40,112.61) scale(1.055,1)" font-size="18.96" stroke-width="0.23">/</text>
<text transform="translate(447.16,109.80) scale(1.098,1)" font-size="13.44" stroke-width="0.16">Γ</text>
<text transform="translate(456.28,111.30) scale(1.073,1)" font-size="7.88" stroke-width="0.09">1</text>
<text transform="translate(460.78,109.80) scale(0.992,1)" font-size="13.96" stroke-width="0.17">)</text>
<text transform="translate(391.19,133.30) scale(1.138,1)" font-size="13.33" stroke-width="0.16">,</text>
<path d="M397.9 129.35H432.4" stroke="#1c1c1c" stroke-width="0.8" fill="none"/>
<path d="M399.7 120.90V128.10M430.6 120.90V128.10" stroke="#1c1c1c" stroke-width="0.7" fill="none"/>
<text transform="translate(401.63,127.70) scale(1.247,1)" font-size="8.49" font-style="italic" stroke-width="0.10">h</text>
<text transform="translate(407.20,124.33) scale(1.381,1)" font-size="4.94" stroke-width="0.00">†</text>
<text transform="translate(411.10,127.70) scale(1.330,1)" font-size="8.49" font-style="italic" stroke-width="0.10">h</text>
<text transform="translate(416.65,128.90) scale(1.255,1)" font-size="6.06" stroke-width="0.00">1</text>
<text transform="translate(420.84,128.90) scale(1.691,1)" font-size="6.06" stroke-width="0.00">2</text>
<text transform="translate(402.04,137.40) scale(1.180,1)" font-size="8.78" font-style="italic" stroke-width="0.11">h</text>
<text transform="translate(407.70,134.32) scale(1.347,1)" font-size="5.06" stroke-width="0.00">†</text>
<text transform="translate(411.39,137.40) scale(1.340,1)" font-size="8.78" font-style="italic" stroke-width="0.11">h</text>
<text transform="translate(417.55,138.60) scale(1.287,1)" font-size="5.91" stroke-width="0.00">1</text>
<text transform="translate(423.03,138.60) scale(1.335,1)" font-size="5.91" stroke-width="0.00">1</text>
<text transform="translate(435.85,133.50) scale(1.647,1)" font-size="12.80" stroke-width="0.15">=</text>
<text transform="translate(450.27,132.91) scale(1.079,1)" font-size="12.35" stroke-width="0.15">0.5</text>
<text transform="translate(391.19,156.20) scale(1.138,1)" font-size="13.33" stroke-width="0.16">,</text>
<path d="M397.9 152.25H432.4" stroke="#1c1c1c" stroke-width="0.8" fill="none"/>
<path d="M399.7 143.80V151.00M430.6 143.80V151.00" stroke="#1c1c1c" stroke-width="0.7" fill="none"/>
<text transform="translate(401.63,150.60) scale(1.247,1)" font-size="8.49" font-style="italic" stroke-width="0.10">h</text>
<text transform="translate(407.20,147.23) scale(1.381,1)" font-size="4.94" stroke-width="0.00">†</text>
<text transform="translate(411.10,150.60) scale(1.330,1)" font-size="8.49" font-style="italic" stroke-width="0.10">h</text>
<text transform="translate(416.65,151.80) scale(1.255,1)" font-size="6.06" stroke-width="0.00">1</text>
<text transform="translate(420.84,151.80) scale(1.691,1)" font-size="6.06" stroke-width="0.00">2</text>
<text transform="translate(402.04,160.30) scale(1.180,1)" font-size="8.78" font-style="italic" stroke-width="0.11">h</text>
<text transform="translate(407.70,157.22) scale(1.347,1)" font-size="5.06" stroke-width="0.00">†</text>
<text transform="translate(411.39,160.30) scale(1.340,1)" font-size="8.78" font-style="italic" stroke-width="0.11">h</text>
<text transform="translate(417.55,161.50) scale(1.287,1)" font-size="5.91" stroke-width="0.00">1</text>
<text transform="translate(423.03,161.50) scale(1.335,1)" font-size="5.91" stroke-width="0.00">1</text>
<text transform="translate(435.85,156.40) scale(1.647,1)" font-size="12.80" stroke-width="0.15">=</text>
<text transform="translate(449.62,155.81) scale(1.123,1)" font-size="12.35" stroke-width="0.15">1.0</text>
<g transform="rotate(-90)">
<text transform="translate(-166.71,17.40) scale(1.112,1)" font-size="16.64" font-style="italic" stroke-width="0.20">R</text>
<path d="M-294.5 159.8V172.3M-211.4 160.3V172.4" stroke="#1c1c1c" stroke-width="0.8" fill="none"/>
<text transform="translate(-291.58,170.20) scale(0.821,1)" font-size="14.50" font-style="italic" stroke-width="0.17">M</text>
<text transform="translate(-280.74,171.80) scale(1.201,1)" font-size="7.27" stroke-width="0.09">1</text>
<text transform="translate(-276.65,170.20) scale(1.044,1)" font-size="14.50" stroke-width="0.17">Γ</text>
<text transform="translate(-267.37,171.80) scale(1.239,1)" font-size="7.27" stroke-width="0.09">1</text>
<text transform="translate(-257.48,170.70) scale(1.121,1)" font-size="14.00" stroke-width="0.17">−</text>
<text transform="translate(-244.28,170.20) scale(0.806,1)" font-size="14.50" font-style="italic" stroke-width="0.17">M</text>
<text transform="translate(-233.52,171.80) scale(1.581,1)" font-size="7.27" stroke-width="0.09">2</text>
<text transform="translate(-226.47,170.20) scale(1.071,1)" font-size="14.50" stroke-width="0.17">Γ</text>
<text transform="translate(-217.74,171.80) scale(1.341,1)" font-size="7.27" stroke-width="0.09">2</text>
<text transform="translate(-294.58,248.50) scale(0.829,1)" font-size="14.50" font-style="italic" stroke-width="0.17">M</text>
<text transform="translate(-283.49,250.10) scale(1.278,1)" font-size="7.27" stroke-width="0.09">1</text>
<text transform="translate(-278.89,248.50) scale(1.125,1)" font-size="14.50" stroke-width="0.17">Γ</text>
<text transform="translate(-268.57,250.10) scale(1.239,1)" font-size="7.27" stroke-width="0.09">1</text>
<text transform="translate(-262.01,249.50) scale(1.304,1)" font-size="15.50" stroke-width="0.19">+</text>
<text transform="translate(-247.68,248.50) scale(0.852,1)" font-size="14.50" font-style="italic" stroke-width="0.17">M</text>
<text transform="translate(-236.42,250.10) scale(1.581,1)" font-size="7.27" stroke-width="0.09">2</text>
<text transform="translate(-231.37,248.50) scale(1.084,1)" font-size="14.50" stroke-width="0.17">Γ</text>
<text transform="translate(-222.19,250.10) scale(1.512,1)" font-size="7.27" stroke-width="0.09">2</text>
</g>
</g>
<g fill="none" stroke-width="0.6">
<path d="M321.9 36.2H353.9" stroke="#111" stroke-dasharray="5.6 2.4"/>
<path d="M321.9 59.5H353.9" stroke="#f00"/>
<path d="M321.9 82.6H353.9" stroke="#00f"/>
<path d="M321.9 105.5H353.9" stroke="#0f0"/>
<path d="M321.9 128.7H353.9" stroke="#f00" stroke-dasharray="8.6 2.4 1.8 2.4"/>
<path d="M321.9 151.6H353.9" stroke="#f00" stroke-dasharray="4.4 3.7 2 3.8"/>
</g>
</svg></body></html>
